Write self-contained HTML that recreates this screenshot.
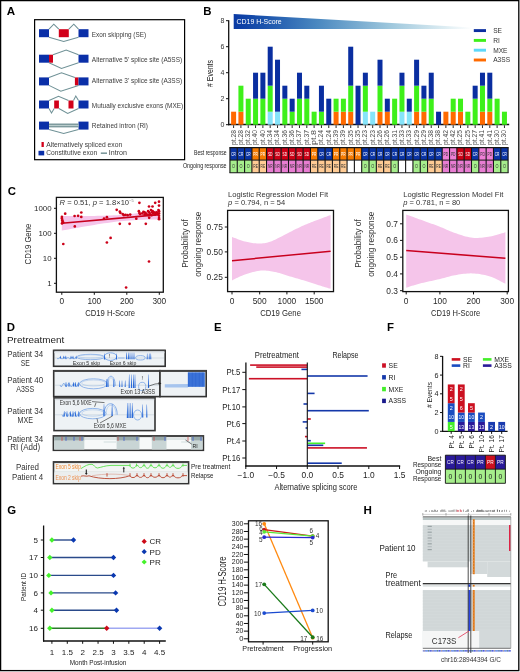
<!DOCTYPE html>
<html><head><meta charset="utf-8"><style>
html,body{margin:0;padding:0;background:#fff;}
svg{display:block;font-family:"Liberation Sans", sans-serif;will-change:transform;}
</style></head><body>
<svg width="520" height="672" viewBox="0 0 520 672">
<rect x="0" y="0" width="520" height="672" fill="#fff"/>
<rect x="0.60" y="0.60" width="518.20" height="670.00" fill="none" stroke="#000" stroke-width="1.3" />
<text x="6.80" y="15.30" font-size="11.6" fill="#000" font-weight="bold" >A</text>
<rect x="34.60" y="19.70" width="150.00" height="140.00" fill="none" stroke="#000" stroke-width="1.2" />
<rect x="39.00" y="29.20" width="10.00" height="8.00" fill="#0a2fa8" />
<rect x="58.80" y="29.20" width="10.00" height="8.00" fill="#d2001a" />
<rect x="78.50" y="29.20" width="10.00" height="8.00" fill="#0a2fa8" />
<polyline points="49.00,29.20 53.80,24.20 58.80,29.20" fill="none" stroke="#6f9196" stroke-width="1.05" />
<polyline points="68.80,29.20 73.80,24.20 78.50,29.20" fill="none" stroke="#6f9196" stroke-width="1.05" />
<polyline points="49.00,37.20 63.70,41.40 78.50,37.20" fill="none" stroke="#6f9196" stroke-width="1.05" />
<rect x="39.00" y="54.70" width="10.00" height="8.00" fill="#0a2fa8" />
<rect x="49.00" y="54.70" width="4.00" height="8.00" fill="#d2001a" />
<rect x="78.50" y="54.70" width="10.00" height="8.00" fill="#0a2fa8" />
<polyline points="53.00,54.70 66.20,50.00 78.50,54.70" fill="none" stroke="#6f9196" stroke-width="1.05" />
<polyline points="49.00,62.70 61.50,68.50 78.50,62.70" fill="none" stroke="#6f9196" stroke-width="1.05" />
<rect x="39.00" y="77.40" width="10.00" height="8.00" fill="#0a2fa8" />
<rect x="74.90" y="77.40" width="3.60" height="8.00" fill="#d2001a" />
<rect x="78.50" y="77.40" width="10.00" height="8.00" fill="#0a2fa8" />
<polyline points="49.00,77.40 61.50,72.80 74.90,77.40" fill="none" stroke="#6f9196" stroke-width="1.05" />
<polyline points="49.00,85.40 60.80,91.20 78.50,85.40" fill="none" stroke="#6f9196" stroke-width="1.05" />
<rect x="39.00" y="100.50" width="10.00" height="8.00" fill="#0a2fa8" />
<rect x="54.20" y="100.50" width="4.70" height="8.00" fill="#d2001a" />
<rect x="68.50" y="100.50" width="5.00" height="8.00" fill="#d2001a" />
<rect x="78.50" y="100.50" width="10.00" height="8.00" fill="#0a2fa8" />
<polyline points="49.00,100.50 58.50,96.30 68.50,100.50" fill="none" stroke="#6f9196" stroke-width="1.05" />
<polyline points="73.50,100.50 75.80,96.00 78.50,100.50" fill="none" stroke="#6f9196" stroke-width="1.05" />
<polyline points="49.00,108.50 51.50,113.00 54.20,108.50" fill="none" stroke="#6f9196" stroke-width="1.05" />
<polyline points="58.90,108.50 67.70,113.50 78.50,108.50" fill="none" stroke="#6f9196" stroke-width="1.05" />
<rect x="39.00" y="121.60" width="10.00" height="8.00" fill="#0a2fa8" />
<rect x="78.50" y="121.60" width="10.00" height="8.00" fill="#0a2fa8" />
<rect x="49.00" y="123.50" width="29.50" height="3.90" fill="#7e9a9d" />
<rect x="49.00" y="125.00" width="29.50" height="1.00" fill="#b9cccc" />
<polyline points="49.00,129.60 63.70,133.40 78.50,129.60" fill="none" stroke="#6f9196" stroke-width="1.05" />
<text x="91.80" y="36.50" font-size="7.2" fill="#3a3a3a" textLength="54.30" lengthAdjust="spacingAndGlyphs" >Exon skipping (SE)</text>
<text x="91.80" y="61.90" font-size="7.2" fill="#3a3a3a" textLength="90.40" lengthAdjust="spacingAndGlyphs" >Alternative 5’ splice site (A5SS)</text>
<text x="91.80" y="83.10" font-size="7.2" fill="#3a3a3a" textLength="90.40" lengthAdjust="spacingAndGlyphs" >Alternative 3’ splice site (A3SS)</text>
<text x="91.80" y="107.50" font-size="7.2" fill="#3a3a3a" textLength="91.40" lengthAdjust="spacingAndGlyphs" >Mutually exclusive exons (MXE)</text>
<text x="91.80" y="127.70" font-size="7.2" fill="#3a3a3a" textLength="56.20" lengthAdjust="spacingAndGlyphs" >Retained intron (RI)</text>
<rect x="41.50" y="142.00" width="2.30" height="5.00" fill="#d2001a" />
<text x="46.20" y="147.30" font-size="7.2" fill="#3a3a3a" textLength="76.00" lengthAdjust="spacingAndGlyphs" >Alternatively spliced exon</text>
<rect x="38.50" y="150.80" width="5.70" height="4.60" fill="#0a2fa8" />
<text x="46.20" y="155.30" font-size="7.2" fill="#3a3a3a" textLength="51.00" lengthAdjust="spacingAndGlyphs" >Constitutive exon</text>
<line x1="100.80" y1="153.20" x2="107.00" y2="153.20" stroke="#7e9a9d" stroke-width="1.6" />
<text x="108.80" y="155.30" font-size="7.2" fill="#3a3a3a" textLength="18.20" lengthAdjust="spacingAndGlyphs" >Intron</text>
<text x="203.30" y="14.80" font-size="11.4" fill="#000" font-weight="bold" >B</text>
<defs><linearGradient id="hs" x1="233.7" y1="0" x2="472" y2="0" gradientUnits="userSpaceOnUse"><stop offset="0" stop-color="#0a3aa4"/><stop offset="0.12" stop-color="#1a52ac"/><stop offset="0.35" stop-color="#4a88c0"/><stop offset="0.65" stop-color="#9cc6dc"/><stop offset="0.88" stop-color="#dcecf2"/><stop offset="1" stop-color="#ffffff"/></linearGradient></defs>
<polygon points="233.70,14.00 472.00,27.60 472.00,29.00 233.70,29.00" fill="url(#hs)" />
<text x="236.50" y="24.00" font-size="8" fill="#fff" textLength="45.20" lengthAdjust="spacingAndGlyphs" >CD19 H-Score</text>
<line x1="228.70" y1="20.20" x2="228.70" y2="125.30" stroke="#111" stroke-width="1.3" />
<line x1="228.10" y1="124.50" x2="509.20" y2="124.50" stroke="#111" stroke-width="1.3" />
<line x1="226.00" y1="124.70" x2="228.70" y2="124.70" stroke="#111" stroke-width="1.0" />
<text x="224.30" y="127.20" font-size="7" fill="#333" text-anchor="end" >0</text>
<line x1="226.00" y1="98.70" x2="228.70" y2="98.70" stroke="#111" stroke-width="1.0" />
<text x="224.30" y="101.20" font-size="7" fill="#333" text-anchor="end" >2</text>
<line x1="226.00" y1="72.70" x2="228.70" y2="72.70" stroke="#111" stroke-width="1.0" />
<text x="224.30" y="75.20" font-size="7" fill="#333" text-anchor="end" >4</text>
<line x1="226.00" y1="46.70" x2="228.70" y2="46.70" stroke="#111" stroke-width="1.0" />
<text x="224.30" y="49.20" font-size="7" fill="#333" text-anchor="end" >6</text>
<line x1="226.00" y1="20.70" x2="228.70" y2="20.70" stroke="#111" stroke-width="1.0" />
<text x="224.30" y="23.20" font-size="7" fill="#333" text-anchor="end" >8</text>
<text x="0" y="0" font-size="8.8" fill="#1a1a1a" text-anchor="middle" textLength="26.80" lengthAdjust="spacingAndGlyphs" transform="translate(213.30,73.50) rotate(-90)" ># Events</text>
<rect x="231.10" y="111.70" width="5.00" height="13.00" fill="#ff6a00" />
<line x1="233.60" y1="125.30" x2="233.60" y2="128.00" stroke="#111" stroke-width="0.9" />
<text x="0" y="0" font-size="6.5" fill="#4a4a4a" text-anchor="end" textLength="15.00" lengthAdjust="spacingAndGlyphs" transform="translate(235.50,130.00) rotate(-90)" >pt.28</text>
<rect x="238.42" y="111.70" width="5.00" height="13.00" fill="#ff6a00" />
<rect x="238.42" y="85.70" width="5.00" height="26.00" fill="#3ef01a" />
<line x1="240.92" y1="125.30" x2="240.92" y2="128.00" stroke="#111" stroke-width="0.9" />
<text x="0" y="0" font-size="6.5" fill="#4a4a4a" text-anchor="end" textLength="15.00" lengthAdjust="spacingAndGlyphs" transform="translate(242.82,130.00) rotate(-90)" >pt.28</text>
<rect x="245.74" y="98.70" width="5.00" height="26.00" fill="#3ef01a" />
<line x1="248.24" y1="125.30" x2="248.24" y2="128.00" stroke="#111" stroke-width="0.9" />
<text x="0" y="0" font-size="6.5" fill="#4a4a4a" text-anchor="end" textLength="15.00" lengthAdjust="spacingAndGlyphs" transform="translate(250.14,130.00) rotate(-90)" >pt.32</text>
<rect x="253.06" y="98.70" width="5.00" height="26.00" fill="#3ef01a" />
<rect x="253.06" y="72.70" width="5.00" height="26.00" fill="#0a2ea0" />
<line x1="255.56" y1="125.30" x2="255.56" y2="128.00" stroke="#111" stroke-width="0.9" />
<text x="0" y="0" font-size="6.5" fill="#4a4a4a" text-anchor="end" textLength="15.00" lengthAdjust="spacingAndGlyphs" transform="translate(257.46,130.00) rotate(-90)" >pt.40</text>
<rect x="260.38" y="98.70" width="5.00" height="26.00" fill="#3ef01a" />
<rect x="260.38" y="72.70" width="5.00" height="26.00" fill="#0a2ea0" />
<line x1="262.88" y1="125.30" x2="262.88" y2="128.00" stroke="#111" stroke-width="0.9" />
<text x="0" y="0" font-size="6.5" fill="#4a4a4a" text-anchor="end" textLength="15.00" lengthAdjust="spacingAndGlyphs" transform="translate(264.78,130.00) rotate(-90)" >pt.40</text>
<rect x="267.70" y="111.70" width="5.00" height="13.00" fill="#86e4fa" />
<rect x="267.70" y="85.70" width="5.00" height="26.00" fill="#3ef01a" />
<rect x="267.70" y="46.70" width="5.00" height="39.00" fill="#0a2ea0" />
<line x1="270.20" y1="125.30" x2="270.20" y2="128.00" stroke="#111" stroke-width="0.9" />
<text x="0" y="0" font-size="6.5" fill="#4a4a4a" text-anchor="end" textLength="15.00" lengthAdjust="spacingAndGlyphs" transform="translate(272.10,130.00) rotate(-90)" >pt.34</text>
<rect x="275.02" y="111.70" width="5.00" height="13.00" fill="#86e4fa" />
<rect x="275.02" y="59.70" width="5.00" height="52.00" fill="#0a2ea0" />
<line x1="277.52" y1="125.30" x2="277.52" y2="128.00" stroke="#111" stroke-width="0.9" />
<text x="0" y="0" font-size="6.5" fill="#4a4a4a" text-anchor="end" textLength="15.00" lengthAdjust="spacingAndGlyphs" transform="translate(279.42,130.00) rotate(-90)" >pt.34</text>
<rect x="282.34" y="98.70" width="5.00" height="26.00" fill="#3ef01a" />
<rect x="282.34" y="85.70" width="5.00" height="13.00" fill="#0a2ea0" />
<line x1="284.84" y1="125.30" x2="284.84" y2="128.00" stroke="#111" stroke-width="0.9" />
<text x="0" y="0" font-size="6.5" fill="#4a4a4a" text-anchor="end" textLength="15.00" lengthAdjust="spacingAndGlyphs" transform="translate(286.74,130.00) rotate(-90)" >pt.36</text>
<rect x="289.66" y="111.70" width="5.00" height="13.00" fill="#3ef01a" />
<rect x="289.66" y="98.70" width="5.00" height="13.00" fill="#0a2ea0" />
<line x1="292.16" y1="125.30" x2="292.16" y2="128.00" stroke="#111" stroke-width="0.9" />
<text x="0" y="0" font-size="6.5" fill="#4a4a4a" text-anchor="end" textLength="15.00" lengthAdjust="spacingAndGlyphs" transform="translate(294.06,130.00) rotate(-90)" >pt.36</text>
<rect x="296.98" y="98.70" width="5.00" height="26.00" fill="#3ef01a" />
<rect x="296.98" y="72.70" width="5.00" height="26.00" fill="#0a2ea0" />
<line x1="299.48" y1="125.30" x2="299.48" y2="128.00" stroke="#111" stroke-width="0.9" />
<text x="0" y="0" font-size="6.5" fill="#4a4a4a" text-anchor="end" textLength="15.00" lengthAdjust="spacingAndGlyphs" transform="translate(301.38,130.00) rotate(-90)" >pt.37</text>
<rect x="304.30" y="98.70" width="5.00" height="26.00" fill="#3ef01a" />
<rect x="304.30" y="85.70" width="5.00" height="13.00" fill="#0a2ea0" />
<line x1="306.80" y1="125.30" x2="306.80" y2="128.00" stroke="#111" stroke-width="0.9" />
<text x="0" y="0" font-size="6.5" fill="#4a4a4a" text-anchor="end" textLength="15.00" lengthAdjust="spacingAndGlyphs" transform="translate(308.70,130.00) rotate(-90)" >pt.37</text>
<rect x="311.62" y="111.70" width="5.00" height="13.00" fill="#3ef01a" />
<line x1="314.12" y1="125.30" x2="314.12" y2="128.00" stroke="#111" stroke-width="0.9" />
<text x="0" y="0" font-size="6.5" fill="#4a4a4a" text-anchor="end" textLength="15.00" lengthAdjust="spacingAndGlyphs" transform="translate(316.02,130.00) rotate(-90)" >pt.8</text>
<rect x="318.94" y="111.70" width="5.00" height="13.00" fill="#3ef01a" />
<rect x="318.94" y="85.70" width="5.00" height="26.00" fill="#0a2ea0" />
<line x1="321.44" y1="125.30" x2="321.44" y2="128.00" stroke="#111" stroke-width="0.9" />
<text x="0" y="0" font-size="6.5" fill="#4a4a4a" text-anchor="end" textLength="15.00" lengthAdjust="spacingAndGlyphs" transform="translate(323.34,130.00) rotate(-90)" >pt.24</text>
<rect x="326.26" y="98.70" width="5.00" height="26.00" fill="#0a2ea0" />
<line x1="328.76" y1="125.30" x2="328.76" y2="128.00" stroke="#111" stroke-width="0.9" />
<text x="0" y="0" font-size="6.5" fill="#4a4a4a" text-anchor="end" textLength="15.00" lengthAdjust="spacingAndGlyphs" transform="translate(330.66,130.00) rotate(-90)" >pt.24</text>
<rect x="333.58" y="111.70" width="5.00" height="13.00" fill="#ff6a00" />
<rect x="333.58" y="98.70" width="5.00" height="13.00" fill="#3ef01a" />
<line x1="336.08" y1="125.30" x2="336.08" y2="128.00" stroke="#111" stroke-width="0.9" />
<text x="0" y="0" font-size="6.5" fill="#4a4a4a" text-anchor="end" textLength="15.00" lengthAdjust="spacingAndGlyphs" transform="translate(337.98,130.00) rotate(-90)" >pt.39</text>
<rect x="340.90" y="111.70" width="5.00" height="13.00" fill="#ff6a00" />
<rect x="340.90" y="98.70" width="5.00" height="13.00" fill="#3ef01a" />
<line x1="343.40" y1="125.30" x2="343.40" y2="128.00" stroke="#111" stroke-width="0.9" />
<text x="0" y="0" font-size="6.5" fill="#4a4a4a" text-anchor="end" textLength="15.00" lengthAdjust="spacingAndGlyphs" transform="translate(345.30,130.00) rotate(-90)" >pt.39</text>
<rect x="348.22" y="111.70" width="5.00" height="13.00" fill="#ff6a00" />
<rect x="348.22" y="85.70" width="5.00" height="26.00" fill="#3ef01a" />
<rect x="348.22" y="46.70" width="5.00" height="39.00" fill="#0a2ea0" />
<line x1="350.72" y1="125.30" x2="350.72" y2="128.00" stroke="#111" stroke-width="0.9" />
<text x="0" y="0" font-size="6.5" fill="#4a4a4a" text-anchor="end" textLength="15.00" lengthAdjust="spacingAndGlyphs" transform="translate(352.62,130.00) rotate(-90)" >pt.35</text>
<rect x="355.54" y="85.70" width="5.00" height="39.00" fill="#0a2ea0" />
<line x1="358.04" y1="125.30" x2="358.04" y2="128.00" stroke="#111" stroke-width="0.9" />
<text x="0" y="0" font-size="6.5" fill="#4a4a4a" text-anchor="end" textLength="15.00" lengthAdjust="spacingAndGlyphs" transform="translate(359.94,130.00) rotate(-90)" >pt.35</text>
<rect x="362.86" y="111.70" width="5.00" height="13.00" fill="#86e4fa" />
<rect x="362.86" y="85.70" width="5.00" height="26.00" fill="#3ef01a" />
<rect x="362.86" y="72.70" width="5.00" height="13.00" fill="#0a2ea0" />
<line x1="365.36" y1="125.30" x2="365.36" y2="128.00" stroke="#111" stroke-width="0.9" />
<text x="0" y="0" font-size="6.5" fill="#4a4a4a" text-anchor="end" textLength="15.00" lengthAdjust="spacingAndGlyphs" transform="translate(367.26,130.00) rotate(-90)" >pt.23</text>
<rect x="370.18" y="111.70" width="5.00" height="13.00" fill="#86e4fa" />
<line x1="372.68" y1="125.30" x2="372.68" y2="128.00" stroke="#111" stroke-width="0.9" />
<text x="0" y="0" font-size="6.5" fill="#4a4a4a" text-anchor="end" textLength="15.00" lengthAdjust="spacingAndGlyphs" transform="translate(374.58,130.00) rotate(-90)" >pt.23</text>
<rect x="377.50" y="111.70" width="5.00" height="13.00" fill="#ff6a00" />
<rect x="377.50" y="85.70" width="5.00" height="26.00" fill="#3ef01a" />
<rect x="377.50" y="59.70" width="5.00" height="26.00" fill="#0a2ea0" />
<line x1="380.00" y1="125.30" x2="380.00" y2="128.00" stroke="#111" stroke-width="0.9" />
<text x="0" y="0" font-size="6.5" fill="#4a4a4a" text-anchor="end" textLength="15.00" lengthAdjust="spacingAndGlyphs" transform="translate(381.90,130.00) rotate(-90)" >pt.26</text>
<rect x="384.82" y="111.70" width="5.00" height="13.00" fill="#ff6a00" />
<rect x="384.82" y="98.70" width="5.00" height="13.00" fill="#0a2ea0" />
<line x1="387.32" y1="125.30" x2="387.32" y2="128.00" stroke="#111" stroke-width="0.9" />
<text x="0" y="0" font-size="6.5" fill="#4a4a4a" text-anchor="end" textLength="15.00" lengthAdjust="spacingAndGlyphs" transform="translate(389.22,130.00) rotate(-90)" >pt.26</text>
<rect x="392.14" y="98.70" width="5.00" height="26.00" fill="#3ef01a" />
<line x1="394.64" y1="125.30" x2="394.64" y2="128.00" stroke="#111" stroke-width="0.9" />
<text x="0" y="0" font-size="6.5" fill="#4a4a4a" text-anchor="end" textLength="15.00" lengthAdjust="spacingAndGlyphs" transform="translate(396.54,130.00) rotate(-90)" >pt.31</text>
<rect x="399.46" y="111.70" width="5.00" height="13.00" fill="#86e4fa" />
<rect x="399.46" y="85.70" width="5.00" height="26.00" fill="#3ef01a" />
<rect x="399.46" y="72.70" width="5.00" height="13.00" fill="#0a2ea0" />
<line x1="401.96" y1="125.30" x2="401.96" y2="128.00" stroke="#111" stroke-width="0.9" />
<text x="0" y="0" font-size="6.5" fill="#4a4a4a" text-anchor="end" textLength="15.00" lengthAdjust="spacingAndGlyphs" transform="translate(403.86,130.00) rotate(-90)" >pt.33</text>
<rect x="406.78" y="111.70" width="5.00" height="13.00" fill="#86e4fa" />
<rect x="406.78" y="98.70" width="5.00" height="13.00" fill="#0a2ea0" />
<line x1="409.28" y1="125.30" x2="409.28" y2="128.00" stroke="#111" stroke-width="0.9" />
<text x="0" y="0" font-size="6.5" fill="#4a4a4a" text-anchor="end" textLength="15.00" lengthAdjust="spacingAndGlyphs" transform="translate(411.18,130.00) rotate(-90)" >pt.33</text>
<rect x="414.10" y="111.70" width="5.00" height="13.00" fill="#ff6a00" />
<rect x="414.10" y="85.70" width="5.00" height="26.00" fill="#3ef01a" />
<rect x="414.10" y="59.70" width="5.00" height="26.00" fill="#0a2ea0" />
<line x1="416.60" y1="125.30" x2="416.60" y2="128.00" stroke="#111" stroke-width="0.9" />
<text x="0" y="0" font-size="6.5" fill="#4a4a4a" text-anchor="end" textLength="15.00" lengthAdjust="spacingAndGlyphs" transform="translate(418.50,130.00) rotate(-90)" >pt.29</text>
<rect x="421.42" y="111.70" width="5.00" height="13.00" fill="#ff6a00" />
<rect x="421.42" y="98.70" width="5.00" height="13.00" fill="#3ef01a" />
<rect x="421.42" y="85.70" width="5.00" height="13.00" fill="#0a2ea0" />
<line x1="423.92" y1="125.30" x2="423.92" y2="128.00" stroke="#111" stroke-width="0.9" />
<text x="0" y="0" font-size="6.5" fill="#4a4a4a" text-anchor="end" textLength="15.00" lengthAdjust="spacingAndGlyphs" transform="translate(425.82,130.00) rotate(-90)" >pt.29</text>
<rect x="428.74" y="98.70" width="5.00" height="26.00" fill="#3ef01a" />
<rect x="428.74" y="72.70" width="5.00" height="26.00" fill="#0a2ea0" />
<line x1="431.24" y1="125.30" x2="431.24" y2="128.00" stroke="#111" stroke-width="0.9" />
<text x="0" y="0" font-size="6.5" fill="#4a4a4a" text-anchor="end" textLength="15.00" lengthAdjust="spacingAndGlyphs" transform="translate(433.14,130.00) rotate(-90)" >pt.38</text>
<rect x="436.06" y="111.70" width="5.00" height="13.00" fill="#0a2ea0" />
<line x1="438.56" y1="125.30" x2="438.56" y2="128.00" stroke="#111" stroke-width="0.9" />
<text x="0" y="0" font-size="6.5" fill="#4a4a4a" text-anchor="end" textLength="15.00" lengthAdjust="spacingAndGlyphs" transform="translate(440.46,130.00) rotate(-90)" >pt.38</text>
<rect x="443.38" y="111.70" width="5.00" height="13.00" fill="#ff6a00" />
<line x1="445.88" y1="125.30" x2="445.88" y2="128.00" stroke="#111" stroke-width="0.9" />
<text x="0" y="0" font-size="6.5" fill="#4a4a4a" text-anchor="end" textLength="15.00" lengthAdjust="spacingAndGlyphs" transform="translate(447.78,130.00) rotate(-90)" >pt.42</text>
<rect x="450.70" y="111.70" width="5.00" height="13.00" fill="#ff6a00" />
<rect x="450.70" y="98.70" width="5.00" height="13.00" fill="#3ef01a" />
<line x1="453.20" y1="125.30" x2="453.20" y2="128.00" stroke="#111" stroke-width="0.9" />
<text x="0" y="0" font-size="6.5" fill="#4a4a4a" text-anchor="end" textLength="15.00" lengthAdjust="spacingAndGlyphs" transform="translate(455.10,130.00) rotate(-90)" >pt.42</text>
<rect x="458.02" y="111.70" width="5.00" height="13.00" fill="#ff6a00" />
<rect x="458.02" y="98.70" width="5.00" height="13.00" fill="#3ef01a" />
<line x1="460.52" y1="125.30" x2="460.52" y2="128.00" stroke="#111" stroke-width="0.9" />
<text x="0" y="0" font-size="6.5" fill="#4a4a4a" text-anchor="end" textLength="15.00" lengthAdjust="spacingAndGlyphs" transform="translate(462.42,130.00) rotate(-90)" >pt.25</text>
<rect x="465.34" y="111.70" width="5.00" height="13.00" fill="#3ef01a" />
<line x1="467.84" y1="125.30" x2="467.84" y2="128.00" stroke="#111" stroke-width="0.9" />
<text x="0" y="0" font-size="6.5" fill="#4a4a4a" text-anchor="end" textLength="15.00" lengthAdjust="spacingAndGlyphs" transform="translate(469.74,130.00) rotate(-90)" >pt.25</text>
<rect x="472.66" y="98.70" width="5.00" height="26.00" fill="#3ef01a" />
<rect x="472.66" y="85.70" width="5.00" height="13.00" fill="#0a2ea0" />
<line x1="475.16" y1="125.30" x2="475.16" y2="128.00" stroke="#111" stroke-width="0.9" />
<text x="0" y="0" font-size="6.5" fill="#4a4a4a" text-anchor="end" textLength="15.00" lengthAdjust="spacingAndGlyphs" transform="translate(477.06,130.00) rotate(-90)" >pt.27</text>
<rect x="479.98" y="111.70" width="5.00" height="13.00" fill="#ff6a00" />
<rect x="479.98" y="85.70" width="5.00" height="26.00" fill="#3ef01a" />
<rect x="479.98" y="72.70" width="5.00" height="13.00" fill="#0a2ea0" />
<line x1="482.48" y1="125.30" x2="482.48" y2="128.00" stroke="#111" stroke-width="0.9" />
<text x="0" y="0" font-size="6.5" fill="#4a4a4a" text-anchor="end" textLength="15.00" lengthAdjust="spacingAndGlyphs" transform="translate(484.38,130.00) rotate(-90)" >pt.41</text>
<rect x="487.30" y="111.70" width="5.00" height="13.00" fill="#ff6a00" />
<rect x="487.30" y="98.70" width="5.00" height="13.00" fill="#3ef01a" />
<rect x="487.30" y="72.70" width="5.00" height="26.00" fill="#0a2ea0" />
<line x1="489.80" y1="125.30" x2="489.80" y2="128.00" stroke="#111" stroke-width="0.9" />
<text x="0" y="0" font-size="6.5" fill="#4a4a4a" text-anchor="end" textLength="15.00" lengthAdjust="spacingAndGlyphs" transform="translate(491.70,130.00) rotate(-90)" >pt.41</text>
<rect x="494.62" y="98.70" width="5.00" height="26.00" fill="#3ef01a" />
<line x1="497.12" y1="125.30" x2="497.12" y2="128.00" stroke="#111" stroke-width="0.9" />
<text x="0" y="0" font-size="6.5" fill="#4a4a4a" text-anchor="end" textLength="15.00" lengthAdjust="spacingAndGlyphs" transform="translate(499.02,130.00) rotate(-90)" >pt.30</text>
<rect x="501.94" y="111.70" width="5.00" height="13.00" fill="#3ef01a" />
<line x1="504.44" y1="125.30" x2="504.44" y2="128.00" stroke="#111" stroke-width="0.9" />
<text x="0" y="0" font-size="6.5" fill="#4a4a4a" text-anchor="end" textLength="15.00" lengthAdjust="spacingAndGlyphs" transform="translate(506.34,130.00) rotate(-90)" >pt.30</text>
<rect x="473.80" y="29.15" width="12.20" height="2.90" fill="#0a2ea0" />
<text x="493.20" y="32.90" font-size="6.6" fill="#333" >SE</text>
<rect x="473.80" y="38.95" width="12.20" height="2.90" fill="#3ef01a" />
<text x="493.20" y="42.70" font-size="6.6" fill="#333" >RI</text>
<rect x="473.80" y="48.75" width="12.20" height="2.90" fill="#5cd8fa" />
<text x="493.20" y="52.50" font-size="6.6" fill="#333" >MXE</text>
<rect x="473.80" y="58.55" width="12.20" height="2.90" fill="#ff6a00" />
<text x="493.20" y="62.30" font-size="6.6" fill="#333" >A3SS</text>
<text x="226.60" y="155.20" font-size="6.4" fill="#222" text-anchor="end" textLength="32.50" lengthAdjust="spacingAndGlyphs" >Best response</text>
<text x="226.60" y="168.30" font-size="6.4" fill="#222" text-anchor="end" textLength="43.70" lengthAdjust="spacingAndGlyphs" >Ongoing response</text>
<rect x="229.94" y="147.60" width="7.32" height="12.50" fill="#0a34a6" />
<text x="233.60" y="155.90" font-size="5.6" fill="#fff" text-anchor="middle" textLength="4.60" lengthAdjust="spacingAndGlyphs" >CR</text>
<rect x="229.94" y="160.10" width="7.32" height="12.70" fill="#a6ee8c" />
<text x="233.60" y="168.40" font-size="5.6" fill="#333" text-anchor="middle" textLength="3.00" lengthAdjust="spacingAndGlyphs" >O</text>
<rect x="237.26" y="147.60" width="7.32" height="12.50" fill="#0a34a6" />
<text x="240.92" y="155.90" font-size="5.6" fill="#fff" text-anchor="middle" textLength="4.60" lengthAdjust="spacingAndGlyphs" >CR</text>
<rect x="237.26" y="160.10" width="7.32" height="12.70" fill="#a6ee8c" />
<text x="240.92" y="168.40" font-size="5.6" fill="#333" text-anchor="middle" textLength="3.00" lengthAdjust="spacingAndGlyphs" >O</text>
<rect x="244.58" y="147.60" width="7.32" height="12.50" fill="#0a34a6" />
<text x="248.24" y="155.90" font-size="5.6" fill="#fff" text-anchor="middle" textLength="4.60" lengthAdjust="spacingAndGlyphs" >CR</text>
<rect x="244.58" y="160.10" width="7.32" height="12.70" fill="#a6ee8c" />
<text x="248.24" y="168.40" font-size="5.6" fill="#333" text-anchor="middle" textLength="3.00" lengthAdjust="spacingAndGlyphs" >O</text>
<rect x="251.90" y="147.60" width="7.32" height="12.50" fill="#f57a00" />
<text x="255.56" y="155.90" font-size="5.6" fill="#fff" text-anchor="middle" textLength="4.60" lengthAdjust="spacingAndGlyphs" >PR</text>
<rect x="251.90" y="160.10" width="7.32" height="12.70" fill="#ffcb94" />
<text x="255.56" y="168.40" font-size="5.6" fill="#333" text-anchor="middle" textLength="4.60" lengthAdjust="spacingAndGlyphs" >RE</text>
<rect x="259.22" y="147.60" width="7.32" height="12.50" fill="#f57a00" />
<text x="262.88" y="155.90" font-size="5.6" fill="#fff" text-anchor="middle" textLength="4.60" lengthAdjust="spacingAndGlyphs" >PR</text>
<rect x="259.22" y="160.10" width="7.32" height="12.70" fill="#ffcb94" />
<text x="262.88" y="168.40" font-size="5.6" fill="#333" text-anchor="middle" textLength="4.60" lengthAdjust="spacingAndGlyphs" >RE</text>
<rect x="266.54" y="147.60" width="7.32" height="12.50" fill="#cc0016" />
<text x="270.20" y="155.90" font-size="5.6" fill="#fff" text-anchor="middle" textLength="4.60" lengthAdjust="spacingAndGlyphs" >SD</text>
<rect x="266.54" y="160.10" width="7.32" height="12.70" fill="#e87dd2" />
<text x="270.20" y="168.40" font-size="5.6" fill="#333" text-anchor="middle" textLength="4.60" lengthAdjust="spacingAndGlyphs" >NR</text>
<rect x="273.86" y="147.60" width="7.32" height="12.50" fill="#cc0016" />
<text x="277.52" y="155.90" font-size="5.6" fill="#fff" text-anchor="middle" textLength="4.60" lengthAdjust="spacingAndGlyphs" >SD</text>
<rect x="273.86" y="160.10" width="7.32" height="12.70" fill="#e87dd2" />
<text x="277.52" y="168.40" font-size="5.6" fill="#333" text-anchor="middle" textLength="4.60" lengthAdjust="spacingAndGlyphs" >NR</text>
<rect x="281.18" y="147.60" width="7.32" height="12.50" fill="#cc0016" />
<text x="284.84" y="155.90" font-size="5.6" fill="#fff" text-anchor="middle" textLength="4.60" lengthAdjust="spacingAndGlyphs" >SD</text>
<rect x="281.18" y="160.10" width="7.32" height="12.70" fill="#e87dd2" />
<text x="284.84" y="168.40" font-size="5.6" fill="#333" text-anchor="middle" textLength="4.60" lengthAdjust="spacingAndGlyphs" >NR</text>
<rect x="288.50" y="147.60" width="7.32" height="12.50" fill="#cc0016" />
<text x="292.16" y="155.90" font-size="5.6" fill="#fff" text-anchor="middle" textLength="4.60" lengthAdjust="spacingAndGlyphs" >SD</text>
<rect x="288.50" y="160.10" width="7.32" height="12.70" fill="#e87dd2" />
<text x="292.16" y="168.40" font-size="5.6" fill="#333" text-anchor="middle" textLength="4.60" lengthAdjust="spacingAndGlyphs" >NR</text>
<rect x="295.82" y="147.60" width="7.32" height="12.50" fill="#cc0016" />
<text x="299.48" y="155.90" font-size="5.6" fill="#fff" text-anchor="middle" textLength="4.60" lengthAdjust="spacingAndGlyphs" >SD</text>
<rect x="295.82" y="160.10" width="7.32" height="12.70" fill="#e87dd2" />
<text x="299.48" y="168.40" font-size="5.6" fill="#333" text-anchor="middle" textLength="4.60" lengthAdjust="spacingAndGlyphs" >NR</text>
<rect x="303.14" y="147.60" width="7.32" height="12.50" fill="#cc0016" />
<text x="306.80" y="155.90" font-size="5.6" fill="#fff" text-anchor="middle" textLength="4.60" lengthAdjust="spacingAndGlyphs" >SD</text>
<rect x="303.14" y="160.10" width="7.32" height="12.70" fill="#e87dd2" />
<text x="306.80" y="168.40" font-size="5.6" fill="#333" text-anchor="middle" textLength="4.60" lengthAdjust="spacingAndGlyphs" >NR</text>
<rect x="310.46" y="147.60" width="7.32" height="12.50" fill="#f57a00" />
<text x="314.12" y="155.90" font-size="5.6" fill="#fff" text-anchor="middle" textLength="4.60" lengthAdjust="spacingAndGlyphs" >PR</text>
<rect x="310.46" y="160.10" width="7.32" height="12.70" fill="#ffcb94" />
<text x="314.12" y="168.40" font-size="5.6" fill="#333" text-anchor="middle" textLength="4.60" lengthAdjust="spacingAndGlyphs" >RE</text>
<rect x="317.78" y="147.60" width="7.32" height="12.50" fill="#0a34a6" />
<text x="321.44" y="155.90" font-size="5.6" fill="#fff" text-anchor="middle" textLength="4.60" lengthAdjust="spacingAndGlyphs" >CR</text>
<rect x="317.78" y="160.10" width="7.32" height="12.70" fill="#ffcb94" />
<text x="321.44" y="168.40" font-size="5.6" fill="#333" text-anchor="middle" textLength="4.60" lengthAdjust="spacingAndGlyphs" >RE</text>
<rect x="325.10" y="147.60" width="7.32" height="12.50" fill="#0a34a6" />
<text x="328.76" y="155.90" font-size="5.6" fill="#fff" text-anchor="middle" textLength="4.60" lengthAdjust="spacingAndGlyphs" >CR</text>
<rect x="325.10" y="160.10" width="7.32" height="12.70" fill="#ffcb94" />
<text x="328.76" y="168.40" font-size="5.6" fill="#333" text-anchor="middle" textLength="4.60" lengthAdjust="spacingAndGlyphs" >RE</text>
<rect x="332.42" y="147.60" width="7.32" height="12.50" fill="#f57a00" />
<text x="336.08" y="155.90" font-size="5.6" fill="#fff" text-anchor="middle" textLength="4.60" lengthAdjust="spacingAndGlyphs" >PR</text>
<rect x="332.42" y="160.10" width="7.32" height="12.70" fill="#ffcb94" />
<text x="336.08" y="168.40" font-size="5.6" fill="#333" text-anchor="middle" textLength="4.60" lengthAdjust="spacingAndGlyphs" >RE</text>
<rect x="339.74" y="147.60" width="7.32" height="12.50" fill="#f57a00" />
<text x="343.40" y="155.90" font-size="5.6" fill="#fff" text-anchor="middle" textLength="4.60" lengthAdjust="spacingAndGlyphs" >PR</text>
<rect x="339.74" y="160.10" width="7.32" height="12.70" fill="#ffcb94" />
<text x="343.40" y="168.40" font-size="5.6" fill="#333" text-anchor="middle" textLength="4.60" lengthAdjust="spacingAndGlyphs" >RE</text>
<rect x="347.06" y="147.60" width="7.32" height="12.50" fill="#f57a00" />
<text x="350.72" y="155.90" font-size="5.6" fill="#fff" text-anchor="middle" textLength="4.60" lengthAdjust="spacingAndGlyphs" >PR</text>
<rect x="347.06" y="160.10" width="7.32" height="12.70" fill="#ffffff" />
<rect x="354.38" y="147.60" width="7.32" height="12.50" fill="#f57a00" />
<text x="358.04" y="155.90" font-size="5.6" fill="#fff" text-anchor="middle" textLength="4.60" lengthAdjust="spacingAndGlyphs" >PR</text>
<rect x="354.38" y="160.10" width="7.32" height="12.70" fill="#ffffff" />
<rect x="361.70" y="147.60" width="7.32" height="12.50" fill="#0a34a6" />
<text x="365.36" y="155.90" font-size="5.6" fill="#fff" text-anchor="middle" textLength="4.60" lengthAdjust="spacingAndGlyphs" >CR</text>
<rect x="361.70" y="160.10" width="7.32" height="12.70" fill="#a6ee8c" />
<text x="365.36" y="168.40" font-size="5.6" fill="#333" text-anchor="middle" textLength="3.00" lengthAdjust="spacingAndGlyphs" >O</text>
<rect x="369.02" y="147.60" width="7.32" height="12.50" fill="#0a34a6" />
<text x="372.68" y="155.90" font-size="5.6" fill="#fff" text-anchor="middle" textLength="4.60" lengthAdjust="spacingAndGlyphs" >CR</text>
<rect x="369.02" y="160.10" width="7.32" height="12.70" fill="#a6ee8c" />
<text x="372.68" y="168.40" font-size="5.6" fill="#333" text-anchor="middle" textLength="3.00" lengthAdjust="spacingAndGlyphs" >O</text>
<rect x="376.34" y="147.60" width="7.32" height="12.50" fill="#0a34a6" />
<text x="380.00" y="155.90" font-size="5.6" fill="#fff" text-anchor="middle" textLength="4.60" lengthAdjust="spacingAndGlyphs" >CR</text>
<rect x="376.34" y="160.10" width="7.32" height="12.70" fill="#ffcb94" />
<text x="380.00" y="168.40" font-size="5.6" fill="#333" text-anchor="middle" textLength="4.60" lengthAdjust="spacingAndGlyphs" >RE</text>
<rect x="383.66" y="147.60" width="7.32" height="12.50" fill="#0a34a6" />
<text x="387.32" y="155.90" font-size="5.6" fill="#fff" text-anchor="middle" textLength="4.60" lengthAdjust="spacingAndGlyphs" >CR</text>
<rect x="383.66" y="160.10" width="7.32" height="12.70" fill="#ffcb94" />
<text x="387.32" y="168.40" font-size="5.6" fill="#333" text-anchor="middle" textLength="4.60" lengthAdjust="spacingAndGlyphs" >RE</text>
<rect x="390.98" y="147.60" width="7.32" height="12.50" fill="#0a34a6" />
<text x="394.64" y="155.90" font-size="5.6" fill="#fff" text-anchor="middle" textLength="4.60" lengthAdjust="spacingAndGlyphs" >CR</text>
<rect x="390.98" y="160.10" width="7.32" height="12.70" fill="#a6ee8c" />
<text x="394.64" y="168.40" font-size="5.6" fill="#333" text-anchor="middle" textLength="3.00" lengthAdjust="spacingAndGlyphs" >O</text>
<rect x="398.30" y="147.60" width="7.32" height="12.50" fill="#0a34a6" />
<text x="401.96" y="155.90" font-size="5.6" fill="#fff" text-anchor="middle" textLength="4.60" lengthAdjust="spacingAndGlyphs" >CR</text>
<rect x="398.30" y="160.10" width="7.32" height="12.70" fill="#ffffff" />
<rect x="405.62" y="147.60" width="7.32" height="12.50" fill="#0a34a6" />
<text x="409.28" y="155.90" font-size="5.6" fill="#fff" text-anchor="middle" textLength="4.60" lengthAdjust="spacingAndGlyphs" >CR</text>
<rect x="405.62" y="160.10" width="7.32" height="12.70" fill="#ffffff" />
<rect x="412.94" y="147.60" width="7.32" height="12.50" fill="#0a34a6" />
<text x="416.60" y="155.90" font-size="5.6" fill="#fff" text-anchor="middle" textLength="4.60" lengthAdjust="spacingAndGlyphs" >CR</text>
<rect x="412.94" y="160.10" width="7.32" height="12.70" fill="#a6ee8c" />
<text x="416.60" y="168.40" font-size="5.6" fill="#333" text-anchor="middle" textLength="3.00" lengthAdjust="spacingAndGlyphs" >O</text>
<rect x="420.26" y="147.60" width="7.32" height="12.50" fill="#0a34a6" />
<text x="423.92" y="155.90" font-size="5.6" fill="#fff" text-anchor="middle" textLength="4.60" lengthAdjust="spacingAndGlyphs" >CR</text>
<rect x="420.26" y="160.10" width="7.32" height="12.70" fill="#a6ee8c" />
<text x="423.92" y="168.40" font-size="5.6" fill="#333" text-anchor="middle" textLength="3.00" lengthAdjust="spacingAndGlyphs" >O</text>
<rect x="427.58" y="147.60" width="7.32" height="12.50" fill="#0a34a6" />
<text x="431.24" y="155.90" font-size="5.6" fill="#fff" text-anchor="middle" textLength="4.60" lengthAdjust="spacingAndGlyphs" >CR</text>
<rect x="427.58" y="160.10" width="7.32" height="12.70" fill="#ffcb94" />
<text x="431.24" y="168.40" font-size="5.6" fill="#333" text-anchor="middle" textLength="4.60" lengthAdjust="spacingAndGlyphs" >RE</text>
<rect x="434.90" y="147.60" width="7.32" height="12.50" fill="#0a34a6" />
<text x="438.56" y="155.90" font-size="5.6" fill="#fff" text-anchor="middle" textLength="4.60" lengthAdjust="spacingAndGlyphs" >CR</text>
<rect x="434.90" y="160.10" width="7.32" height="12.70" fill="#ffcb94" />
<text x="438.56" y="168.40" font-size="5.6" fill="#333" text-anchor="middle" textLength="4.60" lengthAdjust="spacingAndGlyphs" >RE</text>
<rect x="442.22" y="147.60" width="7.32" height="12.50" fill="#ee7fd6" />
<text x="445.88" y="155.90" font-size="5.6" fill="#333" text-anchor="middle" textLength="4.60" lengthAdjust="spacingAndGlyphs" >PD</text>
<rect x="442.22" y="160.10" width="7.32" height="12.70" fill="#e87dd2" />
<text x="445.88" y="168.40" font-size="5.6" fill="#333" text-anchor="middle" textLength="4.60" lengthAdjust="spacingAndGlyphs" >NR</text>
<rect x="449.54" y="147.60" width="7.32" height="12.50" fill="#ee7fd6" />
<text x="453.20" y="155.90" font-size="5.6" fill="#333" text-anchor="middle" textLength="4.60" lengthAdjust="spacingAndGlyphs" >PD</text>
<rect x="449.54" y="160.10" width="7.32" height="12.70" fill="#e87dd2" />
<text x="453.20" y="168.40" font-size="5.6" fill="#333" text-anchor="middle" textLength="4.60" lengthAdjust="spacingAndGlyphs" >NR</text>
<rect x="456.86" y="147.60" width="7.32" height="12.50" fill="#cc0016" />
<text x="460.52" y="155.90" font-size="5.6" fill="#fff" text-anchor="middle" textLength="4.60" lengthAdjust="spacingAndGlyphs" >SD</text>
<rect x="456.86" y="160.10" width="7.32" height="12.70" fill="#e87dd2" />
<text x="460.52" y="168.40" font-size="5.6" fill="#333" text-anchor="middle" textLength="4.60" lengthAdjust="spacingAndGlyphs" >NR</text>
<rect x="464.18" y="147.60" width="7.32" height="12.50" fill="#cc0016" />
<text x="467.84" y="155.90" font-size="5.6" fill="#fff" text-anchor="middle" textLength="4.60" lengthAdjust="spacingAndGlyphs" >SD</text>
<rect x="464.18" y="160.10" width="7.32" height="12.70" fill="#e87dd2" />
<text x="467.84" y="168.40" font-size="5.6" fill="#333" text-anchor="middle" textLength="4.60" lengthAdjust="spacingAndGlyphs" >NR</text>
<rect x="471.50" y="147.60" width="7.32" height="12.50" fill="#0a34a6" />
<text x="475.16" y="155.90" font-size="5.6" fill="#fff" text-anchor="middle" textLength="4.60" lengthAdjust="spacingAndGlyphs" >CR</text>
<rect x="471.50" y="160.10" width="7.32" height="12.70" fill="#a6ee8c" />
<text x="475.16" y="168.40" font-size="5.6" fill="#333" text-anchor="middle" textLength="3.00" lengthAdjust="spacingAndGlyphs" >O</text>
<rect x="478.82" y="147.60" width="7.32" height="12.50" fill="#ee7fd6" />
<text x="482.48" y="155.90" font-size="5.6" fill="#333" text-anchor="middle" textLength="4.60" lengthAdjust="spacingAndGlyphs" >PD</text>
<rect x="478.82" y="160.10" width="7.32" height="12.70" fill="#e87dd2" />
<text x="482.48" y="168.40" font-size="5.6" fill="#333" text-anchor="middle" textLength="4.60" lengthAdjust="spacingAndGlyphs" >NR</text>
<rect x="486.14" y="147.60" width="7.32" height="12.50" fill="#ee7fd6" />
<text x="489.80" y="155.90" font-size="5.6" fill="#333" text-anchor="middle" textLength="4.60" lengthAdjust="spacingAndGlyphs" >PD</text>
<rect x="486.14" y="160.10" width="7.32" height="12.70" fill="#e87dd2" />
<text x="489.80" y="168.40" font-size="5.6" fill="#333" text-anchor="middle" textLength="4.60" lengthAdjust="spacingAndGlyphs" >NR</text>
<rect x="493.46" y="147.60" width="7.32" height="12.50" fill="#0a34a6" />
<text x="497.12" y="155.90" font-size="5.6" fill="#fff" text-anchor="middle" textLength="4.60" lengthAdjust="spacingAndGlyphs" >CR</text>
<rect x="493.46" y="160.10" width="7.32" height="12.70" fill="#a6ee8c" />
<text x="497.12" y="168.40" font-size="5.6" fill="#333" text-anchor="middle" textLength="3.00" lengthAdjust="spacingAndGlyphs" >O</text>
<rect x="500.78" y="147.60" width="7.32" height="12.50" fill="#0a34a6" />
<text x="504.44" y="155.90" font-size="5.6" fill="#fff" text-anchor="middle" textLength="4.60" lengthAdjust="spacingAndGlyphs" >CR</text>
<rect x="500.78" y="160.10" width="7.32" height="12.70" fill="#a6ee8c" />
<text x="504.44" y="168.40" font-size="5.6" fill="#333" text-anchor="middle" textLength="3.00" lengthAdjust="spacingAndGlyphs" >O</text>
<line x1="229.94" y1="147.60" x2="229.94" y2="172.80" stroke="#151515" stroke-width="1.1" />
<line x1="237.26" y1="147.60" x2="237.26" y2="172.80" stroke="#151515" stroke-width="1.1" />
<line x1="244.58" y1="147.60" x2="244.58" y2="172.80" stroke="#151515" stroke-width="1.1" />
<line x1="251.90" y1="147.60" x2="251.90" y2="172.80" stroke="#151515" stroke-width="1.1" />
<line x1="259.22" y1="147.60" x2="259.22" y2="172.80" stroke="#151515" stroke-width="1.1" />
<line x1="266.54" y1="147.60" x2="266.54" y2="172.80" stroke="#151515" stroke-width="1.1" />
<line x1="273.86" y1="147.60" x2="273.86" y2="172.80" stroke="#151515" stroke-width="1.1" />
<line x1="281.18" y1="147.60" x2="281.18" y2="172.80" stroke="#151515" stroke-width="1.1" />
<line x1="288.50" y1="147.60" x2="288.50" y2="172.80" stroke="#151515" stroke-width="1.1" />
<line x1="295.82" y1="147.60" x2="295.82" y2="172.80" stroke="#151515" stroke-width="1.1" />
<line x1="303.14" y1="147.60" x2="303.14" y2="172.80" stroke="#151515" stroke-width="1.1" />
<line x1="310.46" y1="147.60" x2="310.46" y2="172.80" stroke="#151515" stroke-width="1.1" />
<line x1="317.78" y1="147.60" x2="317.78" y2="172.80" stroke="#151515" stroke-width="1.1" />
<line x1="325.10" y1="147.60" x2="325.10" y2="172.80" stroke="#151515" stroke-width="1.1" />
<line x1="332.42" y1="147.60" x2="332.42" y2="172.80" stroke="#151515" stroke-width="1.1" />
<line x1="339.74" y1="147.60" x2="339.74" y2="172.80" stroke="#151515" stroke-width="1.1" />
<line x1="347.06" y1="147.60" x2="347.06" y2="172.80" stroke="#151515" stroke-width="1.1" />
<line x1="354.38" y1="147.60" x2="354.38" y2="172.80" stroke="#151515" stroke-width="1.1" />
<line x1="361.70" y1="147.60" x2="361.70" y2="172.80" stroke="#151515" stroke-width="1.1" />
<line x1="369.02" y1="147.60" x2="369.02" y2="172.80" stroke="#151515" stroke-width="1.1" />
<line x1="376.34" y1="147.60" x2="376.34" y2="172.80" stroke="#151515" stroke-width="1.1" />
<line x1="383.66" y1="147.60" x2="383.66" y2="172.80" stroke="#151515" stroke-width="1.1" />
<line x1="390.98" y1="147.60" x2="390.98" y2="172.80" stroke="#151515" stroke-width="1.1" />
<line x1="398.30" y1="147.60" x2="398.30" y2="172.80" stroke="#151515" stroke-width="1.1" />
<line x1="405.62" y1="147.60" x2="405.62" y2="172.80" stroke="#151515" stroke-width="1.1" />
<line x1="412.94" y1="147.60" x2="412.94" y2="172.80" stroke="#151515" stroke-width="1.1" />
<line x1="420.26" y1="147.60" x2="420.26" y2="172.80" stroke="#151515" stroke-width="1.1" />
<line x1="427.58" y1="147.60" x2="427.58" y2="172.80" stroke="#151515" stroke-width="1.1" />
<line x1="434.90" y1="147.60" x2="434.90" y2="172.80" stroke="#151515" stroke-width="1.1" />
<line x1="442.22" y1="147.60" x2="442.22" y2="172.80" stroke="#151515" stroke-width="1.1" />
<line x1="449.54" y1="147.60" x2="449.54" y2="172.80" stroke="#151515" stroke-width="1.1" />
<line x1="456.86" y1="147.60" x2="456.86" y2="172.80" stroke="#151515" stroke-width="1.1" />
<line x1="464.18" y1="147.60" x2="464.18" y2="172.80" stroke="#151515" stroke-width="1.1" />
<line x1="471.50" y1="147.60" x2="471.50" y2="172.80" stroke="#151515" stroke-width="1.1" />
<line x1="478.82" y1="147.60" x2="478.82" y2="172.80" stroke="#151515" stroke-width="1.1" />
<line x1="486.14" y1="147.60" x2="486.14" y2="172.80" stroke="#151515" stroke-width="1.1" />
<line x1="493.46" y1="147.60" x2="493.46" y2="172.80" stroke="#151515" stroke-width="1.1" />
<line x1="500.78" y1="147.60" x2="500.78" y2="172.80" stroke="#151515" stroke-width="1.1" />
<line x1="508.10" y1="147.60" x2="508.10" y2="172.80" stroke="#151515" stroke-width="1.1" />
<line x1="229.44" y1="147.60" x2="508.60" y2="147.60" stroke="#151515" stroke-width="1.1" />
<line x1="229.94" y1="160.10" x2="508.10" y2="160.10" stroke="#151515" stroke-width="1.0" />
<line x1="229.44" y1="172.80" x2="508.60" y2="172.80" stroke="#151515" stroke-width="1.1" />
<text x="7.80" y="194.70" font-size="11.4" fill="#000" font-weight="bold" >C</text>
<polygon points="61.80,216.00 65.05,216.01 68.30,216.02 71.55,216.03 74.80,216.04 78.05,216.03 81.30,216.03 84.55,216.01 87.80,215.99 91.05,215.96 94.30,215.92 97.55,215.87 100.80,215.80 104.05,215.71 107.30,215.60 110.55,215.47 113.80,215.32 117.05,215.13 120.30,214.91 123.55,214.66 126.80,214.36 130.05,214.04 133.30,213.67 136.55,213.28 139.80,212.85 143.05,212.40 146.30,211.92 149.55,211.42 152.80,210.91 156.05,210.38 159.30,209.84 159.30,219.36 156.05,219.40 152.80,219.45 149.55,219.52 146.30,219.60 143.05,219.70 139.80,219.83 136.55,219.98 133.30,220.17 130.05,220.38 126.80,220.64 123.55,220.92 120.30,221.25 117.05,221.61 113.80,222.00 110.55,222.43 107.30,222.88 104.05,223.35 100.80,223.84 97.55,224.35 94.30,224.88 91.05,225.42 87.80,225.97 84.55,226.53 81.30,227.09 78.05,227.67 74.80,228.24 71.55,228.83 68.30,229.42 65.05,230.01 61.80,230.60" fill="#f5c5ea" />
<line x1="61.80" y1="223.30" x2="159.30" y2="214.60" stroke="#c8001e" stroke-width="1.6" />
<circle cx="139.40" cy="202.80" r="1.35" fill="#cc0018"/>
<circle cx="155.20" cy="202.80" r="1.35" fill="#cc0018"/>
<circle cx="159.00" cy="201.70" r="1.35" fill="#cc0018"/>
<circle cx="159.00" cy="205.60" r="1.35" fill="#cc0018"/>
<circle cx="149.00" cy="206.50" r="1.35" fill="#cc0018"/>
<circle cx="152.50" cy="206.50" r="1.35" fill="#cc0018"/>
<circle cx="116.70" cy="209.80" r="1.35" fill="#cc0018"/>
<circle cx="119.80" cy="211.70" r="1.35" fill="#cc0018"/>
<circle cx="120.40" cy="212.90" r="1.35" fill="#cc0018"/>
<circle cx="122.70" cy="214.00" r="1.35" fill="#cc0018"/>
<circle cx="123.80" cy="215.20" r="1.35" fill="#cc0018"/>
<circle cx="125.50" cy="214.80" r="1.35" fill="#cc0018"/>
<circle cx="127.60" cy="215.20" r="1.35" fill="#cc0018"/>
<circle cx="130.20" cy="214.60" r="1.35" fill="#cc0018"/>
<circle cx="136.30" cy="218.70" r="1.35" fill="#cc0018"/>
<circle cx="149.20" cy="217.80" r="1.35" fill="#cc0018"/>
<circle cx="119.80" cy="223.80" r="1.35" fill="#cc0018"/>
<circle cx="129.60" cy="223.80" r="1.35" fill="#cc0018"/>
<circle cx="145.80" cy="223.80" r="1.35" fill="#cc0018"/>
<circle cx="110.60" cy="237.90" r="1.35" fill="#cc0018"/>
<circle cx="65.20" cy="213.70" r="1.35" fill="#cc0018"/>
<circle cx="61.90" cy="216.90" r="1.35" fill="#cc0018"/>
<circle cx="61.90" cy="218.60" r="1.35" fill="#cc0018"/>
<circle cx="62.30" cy="220.20" r="1.35" fill="#cc0018"/>
<circle cx="62.60" cy="221.60" r="1.35" fill="#cc0018"/>
<circle cx="63.20" cy="222.60" r="1.35" fill="#cc0018"/>
<circle cx="62.00" cy="223.40" r="1.35" fill="#cc0018"/>
<circle cx="74.60" cy="216.00" r="1.35" fill="#cc0018"/>
<circle cx="78.10" cy="215.80" r="1.35" fill="#cc0018"/>
<circle cx="81.30" cy="212.50" r="1.35" fill="#cc0018"/>
<circle cx="81.30" cy="216.90" r="1.35" fill="#cc0018"/>
<circle cx="74.80" cy="226.40" r="1.35" fill="#cc0018"/>
<circle cx="104.00" cy="218.70" r="1.35" fill="#cc0018"/>
<circle cx="106.90" cy="217.20" r="1.35" fill="#cc0018"/>
<circle cx="106.90" cy="242.50" r="1.35" fill="#cc0018"/>
<circle cx="63.30" cy="244.00" r="1.35" fill="#cc0018"/>
<circle cx="126.10" cy="287.50" r="1.35" fill="#cc0018"/>
<circle cx="149.00" cy="261.50" r="1.35" fill="#cc0018"/>
<circle cx="138.85" cy="211.15" r="1.35" fill="#cc0018"/>
<circle cx="139.42" cy="212.88" r="1.35" fill="#cc0018"/>
<circle cx="140.00" cy="214.04" r="1.35" fill="#cc0018"/>
<circle cx="143.46" cy="211.73" r="1.35" fill="#cc0018"/>
<circle cx="144.61" cy="212.31" r="1.35" fill="#cc0018"/>
<circle cx="145.77" cy="213.46" r="1.35" fill="#cc0018"/>
<circle cx="146.92" cy="214.61" r="1.35" fill="#cc0018"/>
<circle cx="148.08" cy="211.15" r="1.35" fill="#cc0018"/>
<circle cx="149.23" cy="212.31" r="1.35" fill="#cc0018"/>
<circle cx="149.81" cy="214.04" r="1.35" fill="#cc0018"/>
<circle cx="150.96" cy="210.00" r="1.35" fill="#cc0018"/>
<circle cx="151.54" cy="215.19" r="1.35" fill="#cc0018"/>
<circle cx="152.69" cy="211.15" r="1.35" fill="#cc0018"/>
<circle cx="153.27" cy="213.46" r="1.35" fill="#cc0018"/>
<circle cx="153.84" cy="212.31" r="1.35" fill="#cc0018"/>
<circle cx="155.58" cy="212.88" r="1.35" fill="#cc0018"/>
<circle cx="156.73" cy="212.31" r="1.35" fill="#cc0018"/>
<circle cx="158.46" cy="210.00" r="1.35" fill="#cc0018"/>
<circle cx="159.04" cy="211.15" r="1.35" fill="#cc0018"/>
<circle cx="159.04" cy="213.46" r="1.35" fill="#cc0018"/>
<circle cx="159.04" cy="215.77" r="1.35" fill="#cc0018"/>
<circle cx="159.04" cy="218.08" r="1.35" fill="#cc0018"/>
<circle cx="159.04" cy="219.23" r="1.35" fill="#cc0018"/>
<circle cx="142.31" cy="213.46" r="1.35" fill="#cc0018"/>
<circle cx="148.65" cy="215.19" r="1.35" fill="#cc0018"/>
<circle cx="155.00" cy="214.61" r="1.35" fill="#cc0018"/>
<circle cx="157.31" cy="214.04" r="1.35" fill="#cc0018"/>
<circle cx="152.11" cy="212.31" r="1.35" fill="#cc0018"/>
<circle cx="144.61" cy="214.61" r="1.35" fill="#cc0018"/>
<rect x="56.40" y="197.40" width="106.90" height="94.80" fill="none" stroke="#111" stroke-width="1.3" />
<line x1="54.00" y1="208.30" x2="56.40" y2="208.30" stroke="#111" stroke-width="1.0" />
<text x="51.60" y="211.10" font-size="7.9" fill="#2a2a2a" text-anchor="end" >1000</text>
<line x1="54.00" y1="233.30" x2="56.40" y2="233.30" stroke="#111" stroke-width="1.0" />
<text x="51.60" y="236.10" font-size="7.9" fill="#2a2a2a" text-anchor="end" >100</text>
<line x1="54.00" y1="258.30" x2="56.40" y2="258.30" stroke="#111" stroke-width="1.0" />
<text x="51.60" y="261.10" font-size="7.9" fill="#2a2a2a" text-anchor="end" >10</text>
<line x1="54.00" y1="283.30" x2="56.40" y2="283.30" stroke="#111" stroke-width="1.0" />
<text x="51.60" y="286.10" font-size="7.9" fill="#2a2a2a" text-anchor="end" >1</text>
<line x1="61.80" y1="292.20" x2="61.80" y2="294.80" stroke="#111" stroke-width="1.0" />
<text x="61.80" y="303.70" font-size="8.3" fill="#2a2a2a" text-anchor="middle" >0</text>
<line x1="94.30" y1="292.20" x2="94.30" y2="294.80" stroke="#111" stroke-width="1.0" />
<text x="94.30" y="303.70" font-size="8.3" fill="#2a2a2a" text-anchor="middle" >100</text>
<line x1="126.80" y1="292.20" x2="126.80" y2="294.80" stroke="#111" stroke-width="1.0" />
<text x="126.80" y="303.70" font-size="8.3" fill="#2a2a2a" text-anchor="middle" >200</text>
<line x1="159.30" y1="292.20" x2="159.30" y2="294.80" stroke="#111" stroke-width="1.0" />
<text x="159.30" y="303.70" font-size="8.3" fill="#2a2a2a" text-anchor="middle" >300</text>
<text x="110.10" y="316.30" font-size="9.5" fill="#2a2a2a" text-anchor="middle" textLength="49.80" lengthAdjust="spacingAndGlyphs" >CD19 H-Score</text>
<text x="0" y="0" font-size="9.3" fill="#2a2a2a" text-anchor="middle" textLength="40.60" lengthAdjust="spacingAndGlyphs" transform="translate(31.30,244.10) rotate(-90)" >CD19 Gene</text>
<text x="59.60" y="205.30" font-size="7.2" fill="#333" textLength="0.10" lengthAdjust="spacingAndGlyphs" visibility="hidden">R = 0.51, </text>
<text x="59.6" y="205.4" font-size="7.7" fill="#333" textLength="74" lengthAdjust="spacingAndGlyphs"><tspan font-style="italic">R</tspan> = 0.51, <tspan font-style="italic">p</tspan> = 1.8×10<tspan font-size="4.0" dy="-3.0" fill="#777">−5</tspan></text>
<text x="228.10" y="197.00" font-size="7.6" fill="#333" textLength="100.00" lengthAdjust="spacingAndGlyphs" >Logistic Regression Model Fit</text>
<text x="228.10" y="205.3" font-size="7.6" fill="#333" textLength="57.0" lengthAdjust="spacingAndGlyphs"><tspan font-style="italic">p</tspan> = 0.794, n = 54</text>
<polygon points="232.00,237.00 232.78,237.28 233.78,237.65 234.98,238.10 236.31,238.60 237.75,239.13 239.25,239.67 240.76,240.20 242.26,240.69 243.68,241.14 245.00,241.50 246.24,241.81 247.45,242.10 248.64,242.37 249.82,242.62 251.00,242.83 252.18,243.02 253.36,243.17 254.55,243.29 255.76,243.36 257.00,243.40 258.23,243.42 259.42,243.44 260.61,243.44 261.79,243.41 263.00,243.33 264.25,243.20 265.55,242.99 266.94,242.70 268.41,242.31 270.00,241.80 271.74,241.14 273.63,240.32 275.64,239.38 277.74,238.35 279.88,237.25 282.02,236.13 284.15,235.01 286.21,233.92 288.17,232.91 290.00,232.00 291.70,231.17 293.32,230.37 294.87,229.60 296.36,228.87 297.81,228.15 299.24,227.45 300.66,226.78 302.08,226.11 303.52,225.45 305.00,224.80 306.52,224.16 308.07,223.52 309.64,222.90 311.21,222.29 312.78,221.70 314.32,221.12 315.82,220.56 317.28,220.02 318.68,219.50 320.00,219.00 321.29,218.51 322.57,218.02 323.84,217.54 325.07,217.08 326.24,216.64 327.33,216.23 328.34,215.85 329.23,215.52 329.99,215.23 330.60,215.00 330.60,288.80 329.99,288.62 329.23,288.39 328.34,288.13 327.33,287.83 326.24,287.50 325.07,287.15 323.84,286.78 322.57,286.39 321.29,286.00 320.00,285.60 318.68,285.18 317.28,284.74 315.82,284.27 314.32,283.78 312.78,283.28 311.21,282.77 309.64,282.26 308.07,281.76 306.52,281.27 305.00,280.80 303.50,280.34 302.00,279.89 300.50,279.45 299.00,279.01 297.50,278.57 296.00,278.14 294.50,277.71 293.00,277.27 291.50,276.84 290.00,276.40 288.50,275.95 286.98,275.47 285.47,274.99 283.95,274.50 282.44,274.01 280.93,273.54 279.43,273.10 277.94,272.69 276.46,272.32 275.00,272.00 273.57,271.71 272.17,271.44 270.79,271.19 269.42,270.97 268.06,270.78 266.70,270.63 265.32,270.54 263.91,270.49 262.48,270.51 261.00,270.60 259.47,270.77 257.88,271.01 256.25,271.32 254.60,271.68 252.94,272.09 251.28,272.54 249.64,273.02 248.04,273.51 246.49,274.01 245.00,274.50 243.52,275.04 242.00,275.65 240.47,276.31 238.96,277.00 237.50,277.69 236.12,278.37 234.85,279.00 233.72,279.57 232.76,280.04 232.00,280.40" fill="#f5c5ea" />
<line x1="232.00" y1="260.70" x2="330.60" y2="251.20" stroke="#c8001e" stroke-width="1.5" />
<rect x="227.60" y="210.40" width="105.90" height="81.20" fill="none" stroke="#111" stroke-width="1.3" />
<line x1="224.80" y1="227.00" x2="227.60" y2="227.00" stroke="#111" stroke-width="1.0" />
<text x="222.80" y="229.90" font-size="8.4" fill="#2a2a2a" text-anchor="end" >0.75</text>
<line x1="224.80" y1="251.90" x2="227.60" y2="251.90" stroke="#111" stroke-width="1.0" />
<text x="222.80" y="254.80" font-size="8.4" fill="#2a2a2a" text-anchor="end" >0.50</text>
<line x1="224.80" y1="277.30" x2="227.60" y2="277.30" stroke="#111" stroke-width="1.0" />
<text x="222.80" y="280.20" font-size="8.4" fill="#2a2a2a" text-anchor="end" >0.25</text>
<line x1="232.00" y1="291.60" x2="232.00" y2="294.40" stroke="#111" stroke-width="1.0" />
<text x="232.00" y="303.50" font-size="8.4" fill="#2a2a2a" text-anchor="middle" >0</text>
<line x1="259.70" y1="291.60" x2="259.70" y2="294.40" stroke="#111" stroke-width="1.0" />
<text x="259.70" y="303.50" font-size="8.4" fill="#2a2a2a" text-anchor="middle" >500</text>
<line x1="286.90" y1="291.60" x2="286.90" y2="294.40" stroke="#111" stroke-width="1.0" />
<text x="286.90" y="303.50" font-size="8.4" fill="#2a2a2a" text-anchor="middle" >1000</text>
<line x1="314.20" y1="291.60" x2="314.20" y2="294.40" stroke="#111" stroke-width="1.0" />
<text x="314.20" y="303.50" font-size="8.4" fill="#2a2a2a" text-anchor="middle" >1500</text>
<text x="280.55" y="316.40" font-size="9.4" fill="#2a2a2a" text-anchor="middle" textLength="40.80" lengthAdjust="spacingAndGlyphs" >CD19 Gene</text>
<text x="0" y="0" font-size="8.6" fill="#333" text-anchor="middle" textLength="48.50" lengthAdjust="spacingAndGlyphs" transform="translate(187.60,243.50) rotate(-90)" >Probability of</text>
<text x="0" y="0" font-size="8.6" fill="#333" text-anchor="middle" textLength="65.00" lengthAdjust="spacingAndGlyphs" transform="translate(200.60,244.20) rotate(-90)" >ongoing response</text>
<text x="403.30" y="197.00" font-size="7.6" fill="#333" textLength="100.00" lengthAdjust="spacingAndGlyphs" >Logistic Regression Model Fit</text>
<text x="403.30" y="205.3" font-size="7.6" fill="#333" textLength="57.0" lengthAdjust="spacingAndGlyphs"><tspan font-style="italic">p</tspan> = 0.781, n = 80</text>
<polygon points="406.20,214.50 407.00,214.79 407.99,215.15 409.16,215.57 410.47,216.04 411.90,216.56 413.43,217.12 415.03,217.70 416.67,218.29 418.34,218.90 420.00,219.50 421.72,220.12 423.55,220.78 425.47,221.47 427.45,222.18 429.47,222.91 431.51,223.64 433.52,224.37 435.49,225.10 437.39,225.81 439.20,226.50 440.91,227.18 442.55,227.86 444.13,228.54 445.68,229.22 447.20,229.89 448.71,230.55 450.23,231.19 451.78,231.82 453.36,232.42 455.00,233.00 456.69,233.58 458.41,234.17 460.15,234.76 461.92,235.34 463.70,235.89 465.49,236.40 467.28,236.86 469.06,237.26 470.84,237.57 472.60,237.80 474.36,237.93 476.12,237.98 477.90,237.95 479.67,237.86 481.44,237.71 483.19,237.52 484.93,237.30 486.65,237.04 488.34,236.77 490.00,236.50 491.69,236.18 493.45,235.78 495.25,235.32 497.04,234.83 498.79,234.32 500.44,233.82 501.97,233.34 503.34,232.92 504.49,232.56 505.40,232.30 505.40,283.80 504.49,283.35 503.34,282.74 501.97,282.01 500.44,281.20 498.79,280.34 497.04,279.47 495.25,278.61 493.45,277.81 491.69,277.09 490.00,276.50 488.34,276.00 486.65,275.53 484.93,275.11 483.19,274.72 481.44,274.38 479.67,274.09 477.90,273.84 476.12,273.64 474.36,273.49 472.60,273.40 470.84,273.37 469.06,273.41 467.28,273.51 465.49,273.66 463.70,273.86 461.92,274.09 460.15,274.34 458.41,274.62 456.69,274.91 455.00,275.20 453.36,275.51 451.78,275.85 450.23,276.23 448.71,276.63 447.20,277.04 445.68,277.47 444.13,277.91 442.55,278.35 440.91,278.78 439.20,279.20 437.39,279.62 435.49,280.04 433.52,280.47 431.51,280.90 429.47,281.34 427.45,281.77 425.47,282.21 423.55,282.64 421.72,283.07 420.00,283.50 418.34,283.94 416.67,284.41 415.03,284.90 413.43,285.39 411.90,285.87 410.47,286.33 409.16,286.75 407.99,287.13 407.00,287.45 406.20,287.70" fill="#f5c5ea" />
<line x1="406.20" y1="250.60" x2="505.40" y2="258.20" stroke="#c8001e" stroke-width="1.5" />
<rect x="402.80" y="210.40" width="105.60" height="81.20" fill="none" stroke="#111" stroke-width="1.3" />
<line x1="400.00" y1="223.80" x2="402.80" y2="223.80" stroke="#111" stroke-width="1.0" />
<text x="398.00" y="226.70" font-size="8.4" fill="#2a2a2a" text-anchor="end" >0.7</text>
<line x1="400.00" y1="240.40" x2="402.80" y2="240.40" stroke="#111" stroke-width="1.0" />
<text x="398.00" y="243.30" font-size="8.4" fill="#2a2a2a" text-anchor="end" >0.6</text>
<line x1="400.00" y1="257.20" x2="402.80" y2="257.20" stroke="#111" stroke-width="1.0" />
<text x="398.00" y="260.10" font-size="8.4" fill="#2a2a2a" text-anchor="end" >0.5</text>
<line x1="400.00" y1="273.90" x2="402.80" y2="273.90" stroke="#111" stroke-width="1.0" />
<text x="398.00" y="276.80" font-size="8.4" fill="#2a2a2a" text-anchor="end" >0.4</text>
<line x1="400.00" y1="290.70" x2="402.80" y2="290.70" stroke="#111" stroke-width="1.0" />
<text x="398.00" y="293.60" font-size="8.4" fill="#2a2a2a" text-anchor="end" >0.3</text>
<line x1="406.20" y1="291.60" x2="406.20" y2="294.40" stroke="#111" stroke-width="1.0" />
<text x="406.20" y="303.50" font-size="8.4" fill="#2a2a2a" text-anchor="middle" >0</text>
<line x1="439.90" y1="291.60" x2="439.90" y2="294.40" stroke="#111" stroke-width="1.0" />
<text x="439.90" y="303.50" font-size="8.4" fill="#2a2a2a" text-anchor="middle" >100</text>
<line x1="473.50" y1="291.60" x2="473.50" y2="294.40" stroke="#111" stroke-width="1.0" />
<text x="473.50" y="303.50" font-size="8.4" fill="#2a2a2a" text-anchor="middle" >200</text>
<line x1="507.20" y1="291.60" x2="507.20" y2="294.40" stroke="#111" stroke-width="1.0" />
<text x="507.20" y="303.50" font-size="8.4" fill="#2a2a2a" text-anchor="middle" >300</text>
<text x="455.60" y="316.40" font-size="9.4" fill="#2a2a2a" text-anchor="middle" textLength="49.00" lengthAdjust="spacingAndGlyphs" >CD19 H-Score</text>
<text x="0" y="0" font-size="8.6" fill="#333" text-anchor="middle" textLength="48.50" lengthAdjust="spacingAndGlyphs" transform="translate(360.50,243.50) rotate(-90)" >Probability of</text>
<text x="0" y="0" font-size="8.6" fill="#333" text-anchor="middle" textLength="65.00" lengthAdjust="spacingAndGlyphs" transform="translate(373.50,244.20) rotate(-90)" >ongoing response</text>
<text x="6.80" y="331.00" font-size="11.4" fill="#000" font-weight="bold" >D</text>
<text x="7.00" y="342.60" font-size="9.6" fill="#222" textLength="57.20" lengthAdjust="spacingAndGlyphs" >Pretreatment</text>
<text x="25.20" y="357.00" font-size="8.7" fill="#333" text-anchor="middle" textLength="36.00" lengthAdjust="spacingAndGlyphs" >Patient 34</text>
<text x="25.20" y="366.20" font-size="8.7" fill="#333" text-anchor="middle" textLength="9.00" lengthAdjust="spacingAndGlyphs" >SE</text>
<text x="25.20" y="382.80" font-size="8.7" fill="#333" text-anchor="middle" textLength="36.00" lengthAdjust="spacingAndGlyphs" >Patient 40</text>
<text x="25.20" y="392.00" font-size="8.7" fill="#333" text-anchor="middle" textLength="18.00" lengthAdjust="spacingAndGlyphs" >A3SS</text>
<text x="25.20" y="413.80" font-size="8.7" fill="#333" text-anchor="middle" textLength="36.00" lengthAdjust="spacingAndGlyphs" >Patient 34</text>
<text x="25.20" y="422.60" font-size="8.7" fill="#333" text-anchor="middle" textLength="15.50" lengthAdjust="spacingAndGlyphs" >MXE</text>
<text x="25.20" y="441.70" font-size="8.7" fill="#333" text-anchor="middle" textLength="36.00" lengthAdjust="spacingAndGlyphs" >Patient 34</text>
<text x="25.20" y="449.80" font-size="8.7" fill="#333" text-anchor="middle" textLength="29.70" lengthAdjust="spacingAndGlyphs" >RI (Add)</text>
<text x="27.50" y="470.00" font-size="8.7" fill="#333" text-anchor="middle" textLength="23.10" lengthAdjust="spacingAndGlyphs" >Paired</text>
<text x="27.50" y="479.60" font-size="8.7" fill="#333" text-anchor="middle" textLength="31.20" lengthAdjust="spacingAndGlyphs" >Patient 4</text>
<rect x="53.60" y="350.40" width="111.60" height="15.90" fill="#eef2f5" stroke="#333" stroke-width="1.6" />
<rect x="53.60" y="349.80" width="111.60" height="1.80" fill="#444" />
<rect x="54.40" y="351.20" width="110.00" height="2.00" fill="#e4e9ee" />
<line x1="55.00" y1="358.00" x2="164.00" y2="358.00" stroke="#c8d4dc" stroke-width="0.7" />
<polyline points="57.00,358.20 58.00,359.10 59.00,358.20 60.00,357.30 61.00,358.20 62.00,359.10 63.00,358.20 64.00,357.30 65.00,358.20 66.00,359.10 67.00,358.20 68.00,357.30 69.00,358.20 70.00,359.10 71.00,358.20 72.00,357.30 73.00,358.20 74.00,359.10 75.00,358.20 76.00,357.30 77.00,358.20" fill="none" stroke="#7aa6e6" stroke-width="0.8" />
<polygon points="59.73,358.60 60.35,355.80 60.65,355.80 61.27,358.60" fill="#2a6ad8" />
<polygon points="63.03,358.60 63.65,355.80 63.95,355.80 64.57,358.60" fill="#2a6ad8" />
<polygon points="65.03,358.60 65.65,355.80 65.95,355.80 66.57,358.60" fill="#2a6ad8" />
<polygon points="70.23,358.60 70.85,355.80 71.15,355.80 71.77,358.60" fill="#2a6ad8" />
<polygon points="72.23,358.60 72.85,355.80 73.15,355.80 73.77,358.60" fill="#2a6ad8" />
<polygon points="75.43,358.60 76.05,355.80 76.35,355.80 76.97,358.60" fill="#2a6ad8" />
<ellipse cx="90.60" cy="357.00" rx="14.00" ry="2.70" fill="none" stroke="#7aa6e6" stroke-width="0.8"/>
<ellipse cx="90.60" cy="356.40" rx="12.00" ry="1.60" fill="none" stroke="#a8c4ea" stroke-width="0.6"/>
<ellipse cx="110.50" cy="356.60" rx="6.30" ry="3.80" fill="none" stroke="#7aa6e6" stroke-width="0.9"/>
<polygon points="103.90,359.50 104.45,353.50 104.75,353.50 105.30,359.50" fill="#2a6ad8" />
<polygon points="115.80,359.50 116.35,353.50 116.65,353.50 117.20,359.50" fill="#2a6ad8" />
<text x="109.00" y="357.50" font-size="5" fill="#222" >!</text>
<polygon points="125.97,359.20 126.45,352.60 126.75,352.60 127.23,359.20" fill="#2a6ad8" />
<polygon points="127.77,359.20 128.25,352.60 128.55,352.60 129.03,359.20" fill="#2a6ad8" />
<polygon points="129.37,359.20 129.85,352.60 130.15,352.60 130.63,359.20" fill="#2a6ad8" />
<polygon points="131.37,359.20 131.85,352.60 132.15,352.60 132.63,359.20" fill="#2a6ad8" />
<polygon points="133.37,359.20 133.85,352.60 134.15,352.60 134.63,359.20" fill="#2a6ad8" />
<ellipse cx="140.40" cy="357.80" rx="4.80" ry="2.20" fill="none" stroke="#7aa6e6" stroke-width="0.8"/>
<polygon points="146.64,359.20 147.05,353.60 147.35,353.60 147.76,359.20" fill="#2a6ad8" />
<polygon points="148.64,359.20 149.05,353.60 149.35,353.60 149.76,359.20" fill="#2a6ad8" />
<polygon points="150.24,359.20 150.65,353.60 150.95,353.60 151.36,359.20" fill="#2a6ad8" />
<line x1="118.00" y1="358.00" x2="124.50" y2="358.00" stroke="#7aa6e6" stroke-width="0.8" />
<text x="72.80" y="365.00" font-size="6.0" fill="#333" textLength="27.30" lengthAdjust="spacingAndGlyphs" >Exon 5 skip</text>
<text x="109.70" y="365.00" font-size="6.0" fill="#333" textLength="26.60" lengthAdjust="spacingAndGlyphs" >Exon 6 skip</text>
<rect x="53.70" y="370.70" width="106.30" height="25.90" fill="#eef2f5" stroke="#333" stroke-width="1.6" />
<rect x="53.70" y="370.10" width="106.30" height="1.80" fill="#444" />
<rect x="160.00" y="370.70" width="46.20" height="25.90" fill="#eef2f5" stroke="#333" stroke-width="1.6" />
<rect x="160.00" y="370.10" width="46.20" height="1.80" fill="#444" />
<line x1="55.00" y1="385.20" x2="159.00" y2="385.20" stroke="#c8d4dc" stroke-width="0.7" />
<polyline points="60.00,385.00 61.25,387.00 62.50,385.00 63.75,383.00 65.00,385.00 66.25,387.00 67.50,385.00 68.75,383.00 70.00,385.00 71.25,387.00 72.50,385.00 73.75,383.00 75.00,385.00 76.25,387.00 77.50,385.00 78.75,383.00 80.00,385.00" fill="none" stroke="#7aa6e6" stroke-width="0.8" />
<polygon points="65.23,386.60 65.85,382.00 66.15,382.00 66.77,386.60" fill="#2a6ad8" />
<polygon points="68.23,386.60 68.85,382.00 69.15,382.00 69.77,386.60" fill="#2a6ad8" />
<polygon points="72.73,386.60 73.35,382.00 73.65,382.00 74.27,386.60" fill="#2a6ad8" />
<polygon points="74.73,386.60 75.35,382.00 75.65,382.00 76.27,386.60" fill="#2a6ad8" />
<polygon points="77.43,386.60 78.05,382.00 78.35,382.00 78.97,386.60" fill="#2a6ad8" />
<ellipse cx="93.50" cy="383.80" rx="14.00" ry="5.00" fill="none" stroke="#7aa6e6" stroke-width="0.8"/>
<ellipse cx="93.50" cy="383.00" rx="12.00" ry="3.00" fill="none" stroke="#a8c4ea" stroke-width="0.6"/>
<path d="M106.80,386.00 C106.80,373.00 115.20,373.00 115.20,386.00" fill="none" stroke="#7aa6e6" stroke-width="0.9"/>
<path d="M108.00,386.00 C108.00,375.00 114.00,375.00 114.00,386.00" fill="none" stroke="#a8c4ea" stroke-width="0.7"/>
<polygon points="105.97,387.00 106.45,379.00 106.75,379.00 107.23,387.00" fill="#2a6ad8" />
<polygon points="107.37,387.00 107.85,379.00 108.15,379.00 108.63,387.00" fill="#2a6ad8" />
<polygon points="113.17,387.00 113.65,379.00 113.95,379.00 114.43,387.00" fill="#2a6ad8" />
<polygon points="119.14,387.00 119.55,380.50 119.85,380.50 120.26,387.00" fill="#2a6ad8" />
<polygon points="121.44,387.00 121.85,380.50 122.15,380.50 122.56,387.00" fill="#2a6ad8" />
<polygon points="124.64,387.00 125.05,380.50 125.35,380.50 125.76,387.00" fill="#2a6ad8" />
<polygon points="128.57,388.00 129.05,374.50 129.35,374.50 129.83,388.00" fill="#2a6ad8" />
<polygon points="130.87,388.00 131.35,374.50 131.65,374.50 132.13,388.00" fill="#2a6ad8" />
<polygon points="132.87,388.00 133.35,374.50 133.65,374.50 134.13,388.00" fill="#2a6ad8" />
<polygon points="134.37,388.00 134.85,374.50 135.15,374.50 135.63,388.00" fill="#2a6ad8" />
<ellipse cx="142.20" cy="386.50" rx="3.60" ry="4.20" fill="none" stroke="#7aa6e6" stroke-width="0.8"/>
<polygon points="147.87,388.00 148.35,374.50 148.65,374.50 149.13,388.00" fill="#2a6ad8" />
<text x="141.60" y="380.40" font-size="5" fill="#222" >!</text>
<polyline points="148.50,386.20 155.00,384.00 160.50,383.40" fill="none" stroke="#222" stroke-width="0.6" />
<polygon points="161.50,383.40 158.60,382.00 158.60,384.80" fill="#222" />
<text x="120.60" y="394.30" font-size="6.8" fill="#333" textLength="34.60" lengthAdjust="spacingAndGlyphs" >Exon 13 A3SS</text>
<polygon points="164.80,384.30 188.00,384.00 188.00,387.40 164.80,387.60" fill="#a6c4ee" />
<rect x="187.90" y="372.40" width="16.90" height="14.40" fill="#4a82e0" />
<line x1="188.40" y1="372.40" x2="188.40" y2="386.80" stroke="#2056c8" stroke-width="0.6" />
<line x1="189.80" y1="372.40" x2="189.80" y2="386.80" stroke="#2056c8" stroke-width="0.6" />
<line x1="191.20" y1="372.40" x2="191.20" y2="386.80" stroke="#2056c8" stroke-width="0.6" />
<line x1="192.60" y1="372.40" x2="192.60" y2="386.80" stroke="#2056c8" stroke-width="0.6" />
<line x1="194.00" y1="372.40" x2="194.00" y2="386.80" stroke="#2056c8" stroke-width="0.6" />
<line x1="195.40" y1="372.40" x2="195.40" y2="386.80" stroke="#2056c8" stroke-width="0.6" />
<line x1="196.80" y1="372.40" x2="196.80" y2="386.80" stroke="#2056c8" stroke-width="0.6" />
<line x1="198.20" y1="372.40" x2="198.20" y2="386.80" stroke="#2056c8" stroke-width="0.6" />
<line x1="199.60" y1="372.40" x2="199.60" y2="386.80" stroke="#2056c8" stroke-width="0.6" />
<line x1="201.00" y1="372.40" x2="201.00" y2="386.80" stroke="#2056c8" stroke-width="0.6" />
<line x1="202.40" y1="372.40" x2="202.40" y2="386.80" stroke="#2056c8" stroke-width="0.6" />
<line x1="203.80" y1="372.40" x2="203.80" y2="386.80" stroke="#2056c8" stroke-width="0.6" />
<rect x="54.00" y="397.80" width="101.00" height="32.80" fill="#eef2f5" stroke="#333" stroke-width="1.6" />
<rect x="54.00" y="397.20" width="101.00" height="1.80" fill="#444" />
<rect x="54.80" y="398.60" width="99.40" height="1.60" fill="#d8dde2" />
<line x1="55.00" y1="414.80" x2="154.00" y2="414.80" stroke="#c8d4dc" stroke-width="0.7" />
<polyline points="62.00,414.60 63.12,416.80 64.25,414.60 65.38,412.40 66.50,414.60 67.62,416.80 68.75,414.60 69.88,412.40 71.00,414.60 72.12,416.80 73.25,414.60 74.38,412.40 75.50,414.60 76.62,416.80 77.75,414.60 78.88,412.40 80.00,414.60" fill="none" stroke="#7aa6e6" stroke-width="0.8" />
<polygon points="63.43,416.50 64.05,411.00 64.35,411.00 64.97,416.50" fill="#2a6ad8" />
<polygon points="66.23,416.50 66.85,411.00 67.15,411.00 67.77,416.50" fill="#2a6ad8" />
<polygon points="69.73,416.50 70.35,411.00 70.65,411.00 71.27,416.50" fill="#2a6ad8" />
<polygon points="72.23,416.50 72.85,411.00 73.15,411.00 73.77,416.50" fill="#2a6ad8" />
<polygon points="74.73,416.50 75.35,411.00 75.65,411.00 76.27,416.50" fill="#2a6ad8" />
<polygon points="78.03,416.50 78.65,411.00 78.95,411.00 79.57,416.50" fill="#2a6ad8" />
<ellipse cx="92.80" cy="413.60" rx="13.30" ry="5.20" fill="none" stroke="#7aa6e6" stroke-width="0.8"/>
<ellipse cx="92.80" cy="413.00" rx="11.00" ry="3.20" fill="none" stroke="#a8c4ea" stroke-width="0.6"/>
<path d="M104.00,414.80 C104.00,400.00 117.20,400.00 117.20,414.80" fill="none" stroke="#7aa6e6" stroke-width="0.9"/>
<path d="M106.00,414.80 C106.00,402.00 116.00,402.00 116.00,414.80" fill="none" stroke="#a8c4ea" stroke-width="0.7"/>
<polygon points="103.30,416.00 103.85,404.00 104.15,404.00 104.70,416.00" fill="#2a6ad8" />
<polygon points="111.40,416.00 111.95,404.00 112.25,404.00 112.80,416.00" fill="#2a6ad8" />
<polygon points="126.77,418.00 127.25,403.00 127.55,403.00 128.03,418.00" fill="#2a6ad8" />
<polygon points="128.37,418.00 128.85,403.00 129.15,403.00 129.63,418.00" fill="#2a6ad8" />
<polygon points="130.17,418.00 130.65,403.00 130.95,403.00 131.43,418.00" fill="#2a6ad8" />
<polygon points="131.87,418.00 132.35,403.00 132.65,403.00 133.13,418.00" fill="#2a6ad8" />
<ellipse cx="137.60" cy="415.00" rx="4.10" ry="5.00" fill="none" stroke="#7aa6e6" stroke-width="0.8"/>
<polygon points="142.07,417.50 142.55,404.50 142.85,404.50 143.33,417.50" fill="#2a6ad8" />
<polygon points="146.17,417.50 146.65,404.50 146.95,404.50 147.43,417.50" fill="#2a6ad8" />
<text x="59.70" y="404.60" font-size="6.8" fill="#333" textLength="32.00" lengthAdjust="spacingAndGlyphs" >Exon 5,6 MXE</text>
<text x="93.80" y="428.20" font-size="6.8" fill="#333" textLength="32.60" lengthAdjust="spacingAndGlyphs" >Exon 5,6 MXE</text>
<line x1="92.00" y1="401.60" x2="104.50" y2="402.60" stroke="#222" stroke-width="0.6" />
<line x1="96.00" y1="402.80" x2="94.60" y2="406.80" stroke="#222" stroke-width="0.6" />
<line x1="98.00" y1="423.00" x2="97.00" y2="418.50" stroke="#222" stroke-width="0.6" />
<line x1="100.00" y1="423.00" x2="112.50" y2="416.00" stroke="#222" stroke-width="0.6" />
<rect x="53.40" y="435.90" width="150.00" height="14.40" fill="#f7f9f9" stroke="#333" stroke-width="1.6" />
<rect x="53.40" y="435.30" width="150.00" height="1.80" fill="#444" />
<rect x="54.20" y="436.70" width="30.10" height="4.00" fill="#98aaaa" />
<rect x="54.20" y="440.70" width="30.10" height="8.80" fill="#c9d5d5" />
<rect x="116.60" y="436.70" width="22.90" height="4.00" fill="#98aaaa" />
<rect x="116.60" y="440.70" width="22.90" height="8.80" fill="#c9d5d5" />
<rect x="151.80" y="436.70" width="14.70" height="4.00" fill="#98aaaa" />
<rect x="151.80" y="440.70" width="14.70" height="8.80" fill="#c9d5d5" />
<rect x="191.00" y="436.70" width="11.60" height="4.00" fill="#98aaaa" />
<rect x="191.00" y="440.70" width="11.60" height="8.80" fill="#c9d5d5" />
<line x1="84.30" y1="439.00" x2="116.60" y2="439.00" stroke="#b7c6c6" stroke-width="0.8" />
<rect x="103.68" y="441.00" width="12.92" height="2.00" fill="#e4ebeb" />
<line x1="166.50" y1="439.00" x2="191.00" y2="439.00" stroke="#b7c6c6" stroke-width="0.8" />
<rect x="181.20" y="441.00" width="9.80" height="2.00" fill="#e4ebeb" />
<line x1="62.00" y1="436.70" x2="62.00" y2="441.00" stroke="#d04040" stroke-width="0.7" />
<line x1="66.00" y1="436.70" x2="66.00" y2="441.00" stroke="#3050d0" stroke-width="0.7" />
<line x1="74.00" y1="436.70" x2="74.00" y2="441.00" stroke="#3050d0" stroke-width="0.7" />
<line x1="80.00" y1="436.70" x2="80.00" y2="441.00" stroke="#d04040" stroke-width="0.7" />
<line x1="82.00" y1="436.70" x2="82.00" y2="441.00" stroke="#3050d0" stroke-width="0.7" />
<line x1="118.00" y1="436.70" x2="118.00" y2="441.00" stroke="#d04040" stroke-width="0.7" />
<line x1="124.00" y1="436.70" x2="124.00" y2="441.00" stroke="#3050d0" stroke-width="0.7" />
<line x1="137.00" y1="436.70" x2="137.00" y2="441.00" stroke="#3050d0" stroke-width="0.7" />
<line x1="154.00" y1="436.70" x2="154.00" y2="441.00" stroke="#d04040" stroke-width="0.7" />
<line x1="165.00" y1="436.70" x2="165.00" y2="441.00" stroke="#3050d0" stroke-width="0.7" />
<line x1="188.00" y1="436.70" x2="188.00" y2="441.00" stroke="#d04040" stroke-width="0.7" />
<line x1="193.00" y1="436.70" x2="193.00" y2="441.00" stroke="#3050d0" stroke-width="0.7" />
<line x1="201.00" y1="436.70" x2="201.00" y2="441.00" stroke="#3050d0" stroke-width="0.7" />
<line x1="185.50" y1="440.00" x2="191.80" y2="444.20" stroke="#222" stroke-width="0.6" />
<text x="192.40" y="447.60" font-size="5.2" fill="#222" >RI</text>
<rect x="53.50" y="461.90" width="135.10" height="21.70" fill="#f3f5f4" stroke="#333" stroke-width="1.6" />
<rect x="53.50" y="461.30" width="135.10" height="1.80" fill="#444" />
<line x1="54.50" y1="471.90" x2="187.60" y2="471.90" stroke="#d6dcdc" stroke-width="0.8" />
<rect x="54.30" y="472.40" width="133.50" height="10.40" fill="#eceeee" />
<text x="55.40" y="469.40" font-size="7.0" fill="#f08a34" textLength="25.50" lengthAdjust="spacingAndGlyphs" >Exon 5 skip</text>
<text x="55.40" y="479.80" font-size="7.0" fill="#ec9050" textLength="25.50" lengthAdjust="spacingAndGlyphs" >Exon 2 skip</text>
<path d="M81,468.6 C85,466 88,464 92,464.3 C94,464.6 95,468 97.5,468 C101,467.4 105,465.6 111,465.4 L130,465.4 L130,465.4 C130.5,469.0 135.5,469.0 136,465.4 L138,465.4 C138.5,468.4 142.5,468.4 143,465.4 L145,465.4 C145.5,469.2 149.5,469.2 150,465.4 L152,465.4 C152.5,468.59999999999997 157.5,468.59999999999997 158,465.4 L160,465.4 C160.5,469.2 165.5,469.2 166,465.4 L168,465.4 C168.5,468.0 171.5,468.0 172,465.4 L174,465.4 C174.5,469.4 181.5,469.4 182,465.4 L187,465.4" fill="none" stroke="#5ae04c" stroke-width="0.9"/>
<line x1="130.00" y1="463.60" x2="130.00" y2="466.50" stroke="#5ae04c" stroke-width="0.9" />
<line x1="136.50" y1="463.60" x2="136.50" y2="466.50" stroke="#5ae04c" stroke-width="0.9" />
<line x1="144.00" y1="463.60" x2="144.00" y2="466.50" stroke="#5ae04c" stroke-width="0.9" />
<line x1="151.00" y1="463.60" x2="151.00" y2="466.50" stroke="#5ae04c" stroke-width="0.9" />
<line x1="159.00" y1="463.60" x2="159.00" y2="466.50" stroke="#5ae04c" stroke-width="0.9" />
<line x1="167.00" y1="463.60" x2="167.00" y2="466.50" stroke="#5ae04c" stroke-width="0.9" />
<line x1="173.00" y1="463.60" x2="173.00" y2="466.50" stroke="#5ae04c" stroke-width="0.9" />
<line x1="183.00" y1="463.60" x2="183.00" y2="466.50" stroke="#5ae04c" stroke-width="0.9" />
<path d="M81,476.2 C84,475 86,477 89,475.8 C100,479.6 120,479.6 130,475.6 L130,475.6 C130.5,478.20000000000005 135.5,478.20000000000005 136,475.6 L138,475.6 C138.5,478.0 142.5,478.0 143,475.6 L145,475.6 C145.5,478.40000000000003 149.5,478.40000000000003 150,475.6 L152,475.6 C152.5,477.8 157.5,477.8 158,475.6 L160,475.6 C160.5,478.40000000000003 165.5,478.40000000000003 166,475.6 L168,475.6 C168.5,477.6 171.5,477.6 172,475.6 L174,475.6 C174.5,478.6 181.5,478.6 182,475.6 L187,475.6" fill="none" stroke="#b9442c" stroke-width="0.9"/>
<path d="M92,475.8 C104,473.6 118,473.6 130,475.6" fill="none" stroke="#d89a8a" stroke-width="0.6"/>
<line x1="107.00" y1="473.20" x2="107.00" y2="476.60" stroke="#b9442c" stroke-width="0.9" />
<line x1="130.00" y1="473.20" x2="130.00" y2="476.60" stroke="#b9442c" stroke-width="0.9" />
<line x1="137.00" y1="473.20" x2="137.00" y2="476.60" stroke="#b9442c" stroke-width="0.9" />
<line x1="144.00" y1="473.20" x2="144.00" y2="476.60" stroke="#b9442c" stroke-width="0.9" />
<line x1="151.00" y1="473.20" x2="151.00" y2="476.60" stroke="#b9442c" stroke-width="0.9" />
<line x1="159.00" y1="473.20" x2="159.00" y2="476.60" stroke="#b9442c" stroke-width="0.9" />
<line x1="167.00" y1="473.20" x2="167.00" y2="476.60" stroke="#b9442c" stroke-width="0.9" />
<line x1="173.00" y1="473.20" x2="173.00" y2="476.60" stroke="#b9442c" stroke-width="0.9" />
<line x1="183.00" y1="473.20" x2="183.00" y2="476.60" stroke="#b9442c" stroke-width="0.9" />
<line x1="86.30" y1="469.60" x2="86.30" y2="473.60" stroke="#222" stroke-width="1.1" />
<polygon points="85.00,473.00 87.60,473.00 86.30,475.00" fill="#222" />
<line x1="123.80" y1="468.00" x2="123.80" y2="472.40" stroke="#222" stroke-width="1.0" />
<polygon points="122.60,468.60 125.00,468.60 123.80,466.80" fill="#222" />
<text x="191.00" y="469.40" font-size="6.6" fill="#222" textLength="39.20" lengthAdjust="spacingAndGlyphs" >Pre treatment</text>
<text x="191.00" y="478.00" font-size="6.6" fill="#222" textLength="22.50" lengthAdjust="spacingAndGlyphs" >Relapse</text>
<text x="214.10" y="331.00" font-size="11.4" fill="#000" font-weight="bold" >E</text>
<text x="276.90" y="357.60" font-size="9.0" fill="#222" text-anchor="middle" textLength="44.20" lengthAdjust="spacingAndGlyphs" >Pretreatment</text>
<text x="345.40" y="357.60" font-size="9.0" fill="#222" text-anchor="middle" textLength="26.00" lengthAdjust="spacingAndGlyphs" >Relapse</text>
<rect x="250.11" y="364.30" width="57.19" height="1.60" fill="#cc1126" />
<rect x="256.25" y="366.30" width="51.05" height="1.60" fill="#cc1126" />
<rect x="301.46" y="368.60" width="5.84" height="1.60" fill="#1438aa" />
<rect x="307.30" y="375.20" width="60.27" height="1.60" fill="#1438aa" />
<rect x="248.88" y="377.90" width="58.43" height="1.60" fill="#cc1126" />
<rect x="307.30" y="392.60" width="7.26" height="1.60" fill="#1438aa" />
<rect x="303.49" y="403.20" width="3.81" height="1.60" fill="#1438aa" />
<rect x="307.30" y="409.90" width="61.50" height="1.60" fill="#1438aa" />
<rect x="307.30" y="418.20" width="3.51" height="1.60" fill="#cc1126" />
<rect x="302.69" y="421.10" width="4.61" height="1.60" fill="#1438aa" />
<rect x="305.58" y="427.20" width="1.72" height="1.60" fill="#1438aa" />
<rect x="304.96" y="435.80" width="2.34" height="1.60" fill="#cc1126" />
<rect x="307.30" y="439.90" width="3.51" height="1.60" fill="#1438aa" />
<rect x="307.30" y="442.50" width="17.83" height="1.60" fill="#44ee2a" />
<rect x="307.30" y="444.50" width="15.99" height="1.60" fill="#1438aa" />
<rect x="307.30" y="447.10" width="59.66" height="1.60" fill="#cc1126" />
<rect x="307.30" y="462.40" width="34.44" height="1.60" fill="#1438aa" />
<line x1="307.30" y1="362.60" x2="307.30" y2="466.00" stroke="#111" stroke-width="1.1" />
<line x1="245.90" y1="362.60" x2="245.90" y2="466.60" stroke="#111" stroke-width="1.3" />
<line x1="245.30" y1="466.00" x2="400.20" y2="466.00" stroke="#111" stroke-width="1.3" />
<line x1="245.80" y1="466.00" x2="245.80" y2="469.00" stroke="#111" stroke-width="1.0" />
<text x="245.80" y="477.80" font-size="8.4" fill="#222" text-anchor="middle" >−1.0</text>
<line x1="276.55" y1="466.00" x2="276.55" y2="469.00" stroke="#111" stroke-width="1.0" />
<text x="276.55" y="477.80" font-size="8.4" fill="#222" text-anchor="middle" >−0.5</text>
<line x1="307.30" y1="466.00" x2="307.30" y2="469.00" stroke="#111" stroke-width="1.0" />
<text x="307.30" y="477.80" font-size="8.4" fill="#222" text-anchor="middle" >0.0</text>
<line x1="338.05" y1="466.00" x2="338.05" y2="469.00" stroke="#111" stroke-width="1.0" />
<text x="338.05" y="477.80" font-size="8.4" fill="#222" text-anchor="middle" >0.5</text>
<line x1="368.80" y1="466.00" x2="368.80" y2="469.00" stroke="#111" stroke-width="1.0" />
<text x="368.80" y="477.80" font-size="8.4" fill="#222" text-anchor="middle" >1.0</text>
<line x1="399.55" y1="466.00" x2="399.55" y2="469.00" stroke="#111" stroke-width="1.0" />
<text x="399.55" y="477.80" font-size="8.4" fill="#222" text-anchor="middle" >1.5</text>
<line x1="242.30" y1="372.30" x2="245.90" y2="372.30" stroke="#111" stroke-width="1.0" />
<text x="240.40" y="375.40" font-size="8.6" fill="#222" text-anchor="end" textLength="13.90" lengthAdjust="spacingAndGlyphs" >Pt.5</text>
<line x1="242.30" y1="389.60" x2="245.90" y2="389.60" stroke="#111" stroke-width="1.0" />
<text x="240.40" y="392.70" font-size="8.6" fill="#222" text-anchor="end" textLength="18.20" lengthAdjust="spacingAndGlyphs" >Pt.17</text>
<line x1="242.30" y1="406.90" x2="245.90" y2="406.90" stroke="#111" stroke-width="1.0" />
<text x="240.40" y="410.00" font-size="8.6" fill="#222" text-anchor="end" textLength="18.20" lengthAdjust="spacingAndGlyphs" >Pt.10</text>
<line x1="242.30" y1="423.60" x2="245.90" y2="423.60" stroke="#111" stroke-width="1.0" />
<text x="240.40" y="426.70" font-size="8.6" fill="#222" text-anchor="end" textLength="13.90" lengthAdjust="spacingAndGlyphs" >Pt.6</text>
<line x1="242.30" y1="441.00" x2="245.90" y2="441.00" stroke="#111" stroke-width="1.0" />
<text x="240.40" y="444.10" font-size="8.6" fill="#222" text-anchor="end" textLength="13.90" lengthAdjust="spacingAndGlyphs" >Pt.4</text>
<line x1="242.30" y1="458.00" x2="245.90" y2="458.00" stroke="#111" stroke-width="1.0" />
<text x="240.40" y="461.10" font-size="8.6" fill="#222" text-anchor="end" textLength="18.20" lengthAdjust="spacingAndGlyphs" >Pt.16</text>
<text x="315.90" y="490.20" font-size="8.6" fill="#222" text-anchor="middle" textLength="83.00" lengthAdjust="spacingAndGlyphs" >Alternative splicing score</text>
<rect x="382.10" y="363.30" width="3.80" height="4.40" fill="#cc1126" />
<text x="388.60" y="367.90" font-size="6.8" fill="#222" >SE</text>
<rect x="382.10" y="375.10" width="3.80" height="4.40" fill="#1438aa" />
<text x="388.60" y="379.70" font-size="6.8" fill="#222" >RI</text>
<rect x="382.10" y="386.90" width="3.80" height="4.40" fill="#44ee2a" />
<text x="388.60" y="391.50" font-size="6.8" fill="#222" >MXE</text>
<rect x="382.10" y="398.70" width="3.80" height="4.40" fill="#1a1a8c" />
<text x="388.60" y="403.30" font-size="6.8" fill="#222" >A3SS</text>
<text x="386.90" y="331.00" font-size="11.4" fill="#000" font-weight="bold" >F</text>
<line x1="442.60" y1="356.00" x2="442.60" y2="431.90" stroke="#111" stroke-width="1.3" />
<line x1="442.00" y1="431.30" x2="507.60" y2="431.30" stroke="#111" stroke-width="1.3" />
<line x1="440.00" y1="431.30" x2="442.60" y2="431.30" stroke="#111" stroke-width="1.0" />
<text x="438.60" y="433.80" font-size="7.2" fill="#222" text-anchor="end" >0</text>
<line x1="440.00" y1="412.56" x2="442.60" y2="412.56" stroke="#111" stroke-width="1.0" />
<text x="438.60" y="415.06" font-size="7.2" fill="#222" text-anchor="end" >2</text>
<line x1="440.00" y1="393.82" x2="442.60" y2="393.82" stroke="#111" stroke-width="1.0" />
<text x="438.60" y="396.32" font-size="7.2" fill="#222" text-anchor="end" >4</text>
<line x1="440.00" y1="375.08" x2="442.60" y2="375.08" stroke="#111" stroke-width="1.0" />
<text x="438.60" y="377.58" font-size="7.2" fill="#222" text-anchor="end" >6</text>
<line x1="440.00" y1="356.34" x2="442.60" y2="356.34" stroke="#111" stroke-width="1.0" />
<text x="438.60" y="358.84" font-size="7.2" fill="#222" text-anchor="end" >8</text>
<text x="0" y="0" font-size="7.4" fill="#222" text-anchor="middle" textLength="26.00" lengthAdjust="spacingAndGlyphs" transform="translate(432.20,395.00) rotate(-90)" ># Events</text>
<rect x="447.80" y="421.93" width="6.80" height="9.37" fill="#44ee2a" />
<text x="451.20" y="428.62" font-size="5.4" fill="#fff" text-anchor="middle" >5</text>
<rect x="447.80" y="403.19" width="6.80" height="18.74" fill="#1a4cc0" />
<text x="451.20" y="409.88" font-size="5.4" fill="#fff" text-anchor="middle" >2</text>
<text x="451.20" y="419.25" font-size="5.4" fill="#fff" text-anchor="middle" textLength="5.60" lengthAdjust="spacingAndGlyphs" >10</text>
<rect x="447.80" y="384.45" width="6.80" height="18.74" fill="#cc1020" />
<text x="451.20" y="391.14" font-size="5.4" fill="#fff" text-anchor="middle" >2</text>
<text x="451.20" y="400.50" font-size="5.4" fill="#fff" text-anchor="middle" >5</text>
<line x1="451.20" y1="431.30" x2="451.20" y2="433.90" stroke="#111" stroke-width="1.0" />
<text x="0" y="0" font-size="7.0" fill="#222" text-anchor="end" textLength="13.20" lengthAdjust="spacingAndGlyphs" transform="translate(453.60,435.20) rotate(-90)" >Pt. 4</text>
<rect x="457.90" y="421.93" width="6.80" height="9.37" fill="#2a1a9a" />
<text x="461.30" y="428.62" font-size="5.4" fill="#fff" text-anchor="middle" textLength="5.60" lengthAdjust="spacingAndGlyphs" >13</text>
<rect x="457.90" y="412.56" width="6.80" height="9.37" fill="#1a4cc0" />
<text x="461.30" y="419.25" font-size="5.4" fill="#fff" text-anchor="middle" textLength="5.60" lengthAdjust="spacingAndGlyphs" >10</text>
<rect x="457.90" y="384.45" width="6.80" height="28.11" fill="#cc1020" />
<text x="461.30" y="391.14" font-size="5.4" fill="#fff" text-anchor="middle" >2</text>
<text x="461.30" y="400.50" font-size="5.4" fill="#fff" text-anchor="middle" >5</text>
<text x="461.30" y="409.88" font-size="5.4" fill="#fff" text-anchor="middle" >6</text>
<line x1="461.30" y1="431.30" x2="461.30" y2="433.90" stroke="#111" stroke-width="1.0" />
<text x="0" y="0" font-size="7.0" fill="#222" text-anchor="end" textLength="13.20" lengthAdjust="spacingAndGlyphs" transform="translate(463.70,435.20) rotate(-90)" >Pt. 5</text>
<rect x="468.00" y="421.93" width="6.80" height="9.37" fill="#2a1a9a" />
<text x="471.40" y="428.62" font-size="5.4" fill="#fff" text-anchor="middle" textLength="5.60" lengthAdjust="spacingAndGlyphs" >13</text>
<rect x="468.00" y="412.56" width="6.80" height="9.37" fill="#1a4cc0" />
<text x="471.40" y="419.25" font-size="5.4" fill="#fff" text-anchor="middle" textLength="5.60" lengthAdjust="spacingAndGlyphs" >10</text>
<rect x="468.00" y="403.19" width="6.80" height="9.37" fill="#cc1020" />
<text x="471.40" y="409.88" font-size="5.4" fill="#fff" text-anchor="middle" >5</text>
<line x1="471.40" y1="431.30" x2="471.40" y2="433.90" stroke="#111" stroke-width="1.0" />
<text x="0" y="0" font-size="7.0" fill="#222" text-anchor="end" textLength="13.20" lengthAdjust="spacingAndGlyphs" transform="translate(473.80,435.20) rotate(-90)" >Pt. 6</text>
<rect x="478.10" y="421.93" width="6.80" height="9.37" fill="#2a1a9a" />
<text x="481.50" y="428.62" font-size="5.4" fill="#fff" text-anchor="middle" textLength="5.60" lengthAdjust="spacingAndGlyphs" >13</text>
<rect x="478.10" y="412.56" width="6.80" height="9.37" fill="#1a4cc0" />
<text x="481.50" y="419.25" font-size="5.4" fill="#fff" text-anchor="middle" >2</text>
<line x1="481.50" y1="431.30" x2="481.50" y2="433.90" stroke="#111" stroke-width="1.0" />
<text x="0" y="0" font-size="7.0" fill="#222" text-anchor="end" textLength="17.20" lengthAdjust="spacingAndGlyphs" transform="translate(483.90,435.20) rotate(-90)" >Pt. 10</text>
<rect x="488.20" y="421.93" width="6.80" height="9.37" fill="#1a3cb0" />
<text x="491.60" y="428.62" font-size="5.4" fill="#fff" text-anchor="middle" >2</text>
<line x1="491.60" y1="431.30" x2="491.60" y2="433.90" stroke="#111" stroke-width="1.0" />
<text x="0" y="0" font-size="7.0" fill="#222" text-anchor="end" textLength="17.20" lengthAdjust="spacingAndGlyphs" transform="translate(494.00,435.20) rotate(-90)" >Pt. 16</text>
<rect x="498.30" y="421.93" width="6.80" height="9.37" fill="#1a3cb0" />
<text x="501.70" y="428.62" font-size="5.4" fill="#fff" text-anchor="middle" textLength="5.60" lengthAdjust="spacingAndGlyphs" >10</text>
<line x1="501.70" y1="431.30" x2="501.70" y2="433.90" stroke="#111" stroke-width="1.0" />
<text x="0" y="0" font-size="7.0" fill="#222" text-anchor="end" textLength="17.20" lengthAdjust="spacingAndGlyphs" transform="translate(504.10,435.20) rotate(-90)" >Pt. 17</text>
<rect x="451.70" y="358.10" width="8.60" height="2.60" fill="#cc1020" />
<text x="463.10" y="361.80" font-size="6.8" fill="#222" >SE</text>
<rect x="451.70" y="364.30" width="8.60" height="2.60" fill="#1a4cc0" />
<text x="463.10" y="368.00" font-size="6.8" fill="#222" >RI</text>
<rect x="482.90" y="358.10" width="8.60" height="2.60" fill="#44ee2a" />
<text x="494.30" y="361.80" font-size="6.8" fill="#222" >MXE</text>
<rect x="482.90" y="364.30" width="8.60" height="2.60" fill="#2a1a9a" />
<text x="494.30" y="368.00" font-size="6.8" fill="#222" >A3SS</text>
<rect x="445.40" y="455.20" width="10.00" height="14.00" fill="#2a1a9a" />
<text x="450.40" y="464.40" font-size="5.6" fill="#fff" text-anchor="middle" textLength="6.60" lengthAdjust="spacingAndGlyphs" >CR</text>
<rect x="445.40" y="469.20" width="10.00" height="14.10" fill="#a6ee8c" />
<text x="450.40" y="478.80" font-size="6.8" fill="#222" text-anchor="middle" >0</text>
<rect x="455.40" y="455.20" width="10.00" height="14.00" fill="#2a1a9a" />
<text x="460.40" y="464.40" font-size="5.6" fill="#fff" text-anchor="middle" textLength="6.60" lengthAdjust="spacingAndGlyphs" >CR</text>
<rect x="455.40" y="469.20" width="10.00" height="14.10" fill="#a6ee8c" />
<text x="460.40" y="478.80" font-size="6.8" fill="#222" text-anchor="middle" >0</text>
<rect x="465.40" y="455.20" width="10.00" height="14.00" fill="#2a1a9a" />
<text x="470.40" y="464.40" font-size="5.6" fill="#fff" text-anchor="middle" textLength="6.60" lengthAdjust="spacingAndGlyphs" >CR</text>
<rect x="465.40" y="469.20" width="10.00" height="14.10" fill="#a6ee8c" />
<text x="470.40" y="478.80" font-size="6.8" fill="#222" text-anchor="middle" >0</text>
<rect x="475.40" y="455.20" width="10.00" height="14.00" fill="#2a1a9a" />
<text x="480.40" y="464.40" font-size="5.6" fill="#fff" text-anchor="middle" textLength="6.60" lengthAdjust="spacingAndGlyphs" >PR</text>
<rect x="475.40" y="469.20" width="10.00" height="14.10" fill="#a6ee8c" />
<text x="480.40" y="478.80" font-size="6.8" fill="#222" text-anchor="middle" >0</text>
<rect x="485.40" y="455.20" width="10.00" height="14.00" fill="#cc1020" />
<text x="490.40" y="464.40" font-size="5.6" fill="#fff" text-anchor="middle" textLength="6.60" lengthAdjust="spacingAndGlyphs" >PR</text>
<rect x="485.40" y="469.20" width="10.00" height="14.10" fill="#a6ee8c" />
<text x="490.40" y="478.80" font-size="6.8" fill="#222" text-anchor="middle" >0</text>
<rect x="495.40" y="455.20" width="10.00" height="14.00" fill="#2a1a9a" />
<text x="500.40" y="464.40" font-size="5.6" fill="#fff" text-anchor="middle" textLength="6.60" lengthAdjust="spacingAndGlyphs" >PR</text>
<rect x="495.40" y="469.20" width="10.00" height="14.10" fill="#a6ee8c" />
<text x="500.40" y="478.80" font-size="6.8" fill="#222" text-anchor="middle" >0</text>
<line x1="445.40" y1="455.20" x2="445.40" y2="483.30" stroke="#111" stroke-width="0.9" />
<line x1="455.40" y1="455.20" x2="455.40" y2="483.30" stroke="#111" stroke-width="0.9" />
<line x1="465.40" y1="455.20" x2="465.40" y2="483.30" stroke="#111" stroke-width="0.9" />
<line x1="475.40" y1="455.20" x2="475.40" y2="483.30" stroke="#111" stroke-width="0.9" />
<line x1="485.40" y1="455.20" x2="485.40" y2="483.30" stroke="#111" stroke-width="0.9" />
<line x1="495.40" y1="455.20" x2="495.40" y2="483.30" stroke="#111" stroke-width="0.9" />
<line x1="505.40" y1="455.20" x2="505.40" y2="483.30" stroke="#111" stroke-width="0.9" />
<line x1="445.40" y1="455.20" x2="505.40" y2="455.20" stroke="#111" stroke-width="0.9" />
<line x1="445.40" y1="469.20" x2="505.40" y2="469.20" stroke="#111" stroke-width="0.9" />
<line x1="445.40" y1="483.30" x2="505.40" y2="483.30" stroke="#111" stroke-width="0.9" />
<text x="441.40" y="461.00" font-size="7.2" fill="#222" text-anchor="end" textLength="14.00" lengthAdjust="spacingAndGlyphs" >Best</text>
<text x="441.40" y="467.40" font-size="7.2" fill="#222" text-anchor="end" textLength="28.50" lengthAdjust="spacingAndGlyphs" >Response</text>
<text x="441.40" y="474.20" font-size="7.2" fill="#222" text-anchor="end" textLength="26.00" lengthAdjust="spacingAndGlyphs" >Ongoing</text>
<text x="441.40" y="480.60" font-size="7.2" fill="#222" text-anchor="end" textLength="28.50" lengthAdjust="spacingAndGlyphs" >Response</text>
<text x="7.20" y="513.60" font-size="11.4" fill="#000" font-weight="bold" >G</text>
<line x1="43.60" y1="525.50" x2="43.60" y2="641.60" stroke="#111" stroke-width="1.3" />
<line x1="43.00" y1="641.00" x2="165.80" y2="641.00" stroke="#111" stroke-width="1.3" />
<line x1="51.90" y1="641.00" x2="51.90" y2="643.80" stroke="#111" stroke-width="1.0" />
<text x="51.90" y="654.60" font-size="8.0" fill="#222" text-anchor="middle" >1</text>
<line x1="67.29" y1="641.00" x2="67.29" y2="643.80" stroke="#111" stroke-width="1.0" />
<text x="67.29" y="654.60" font-size="8.0" fill="#222" text-anchor="middle" >1.5</text>
<line x1="82.67" y1="641.00" x2="82.67" y2="643.80" stroke="#111" stroke-width="1.0" />
<text x="82.67" y="654.60" font-size="8.0" fill="#222" text-anchor="middle" >2</text>
<line x1="98.06" y1="641.00" x2="98.06" y2="643.80" stroke="#111" stroke-width="1.0" />
<text x="98.06" y="654.60" font-size="8.0" fill="#222" text-anchor="middle" >2.5</text>
<line x1="113.44" y1="641.00" x2="113.44" y2="643.80" stroke="#111" stroke-width="1.0" />
<text x="113.44" y="654.60" font-size="8.0" fill="#222" text-anchor="middle" >3</text>
<line x1="128.83" y1="641.00" x2="128.83" y2="643.80" stroke="#111" stroke-width="1.0" />
<text x="128.83" y="654.60" font-size="8.0" fill="#222" text-anchor="middle" >3.5</text>
<line x1="144.21" y1="641.00" x2="144.21" y2="643.80" stroke="#111" stroke-width="1.0" />
<text x="144.21" y="654.60" font-size="8.0" fill="#222" text-anchor="middle" >4</text>
<line x1="159.60" y1="641.00" x2="159.60" y2="643.80" stroke="#111" stroke-width="1.0" />
<text x="159.60" y="654.60" font-size="8.0" fill="#222" text-anchor="middle" >4.5</text>
<text x="98.00" y="665.00" font-size="7.0" fill="#222" text-anchor="middle" textLength="56.60" lengthAdjust="spacingAndGlyphs" >Month Post-infusion</text>
<text x="0" y="0" font-size="7.0" fill="#222" text-anchor="middle" textLength="28.00" lengthAdjust="spacingAndGlyphs" transform="translate(26.00,587.00) rotate(-90)" >Patient ID</text>
<line x1="40.80" y1="540.00" x2="43.60" y2="540.00" stroke="#111" stroke-width="1.0" />
<text x="38.00" y="542.80" font-size="8.0" fill="#222" text-anchor="end" >5</text>
<line x1="51.90" y1="540.00" x2="73.50" y2="540.00" stroke="#2a4a8a" stroke-width="1.4" />
<polygon points="51.90,537.30 54.60,540.00 51.90,542.70 49.20,540.00" fill="#44f22a" />
<polygon points="73.50,537.30 76.20,540.00 73.50,542.70 70.80,540.00" fill="#0a38b0" />
<line x1="40.80" y1="557.50" x2="43.60" y2="557.50" stroke="#111" stroke-width="1.0" />
<text x="38.00" y="560.30" font-size="8.0" fill="#222" text-anchor="end" >17</text>
<line x1="49.80" y1="557.50" x2="113.50" y2="557.50" stroke="#2a4a8a" stroke-width="1.4" />
<polygon points="49.80,554.80 52.50,557.50 49.80,560.20 47.10,557.50" fill="#44f22a" />
<polygon points="113.50,554.80 116.20,557.50 113.50,560.20 110.80,557.50" fill="#0a38b0" />
<line x1="40.80" y1="575.40" x2="43.60" y2="575.40" stroke="#111" stroke-width="1.0" />
<text x="38.00" y="578.20" font-size="8.0" fill="#222" text-anchor="end" >10</text>
<line x1="48.80" y1="575.40" x2="113.50" y2="575.40" stroke="#2a4a8a" stroke-width="1.4" />
<polygon points="48.80,572.70 51.50,575.40 48.80,578.10 46.10,575.40" fill="#44f22a" />
<polygon points="113.50,572.70 116.20,575.40 113.50,578.10 110.80,575.40" fill="#0a38b0" />
<line x1="40.80" y1="592.90" x2="43.60" y2="592.90" stroke="#111" stroke-width="1.0" />
<text x="38.00" y="595.70" font-size="8.0" fill="#222" text-anchor="end" >6</text>
<line x1="51.00" y1="592.90" x2="115.60" y2="592.90" stroke="#2a4a8a" stroke-width="1.4" />
<polygon points="51.00,590.20 53.70,592.90 51.00,595.60 48.30,592.90" fill="#44f22a" />
<polygon points="115.60,590.20 118.30,592.90 115.60,595.60 112.90,592.90" fill="#0a38b0" />
<line x1="40.80" y1="610.20" x2="43.60" y2="610.20" stroke="#111" stroke-width="1.0" />
<text x="38.00" y="613.00" font-size="8.0" fill="#222" text-anchor="end" >4</text>
<line x1="51.90" y1="610.20" x2="116.50" y2="610.20" stroke="#2a4a8a" stroke-width="1.4" />
<polygon points="51.90,607.50 54.60,610.20 51.90,612.90 49.20,610.20" fill="#44f22a" />
<polygon points="116.50,607.50 119.20,610.20 116.50,612.90 113.80,610.20" fill="#0a38b0" />
<line x1="40.80" y1="628.30" x2="43.60" y2="628.30" stroke="#111" stroke-width="1.0" />
<text x="38.00" y="631.10" font-size="8.0" fill="#222" text-anchor="end" >16</text>
<line x1="49.80" y1="628.30" x2="106.70" y2="628.30" stroke="#2a7a2a" stroke-width="1.4" />
<line x1="106.70" y1="628.30" x2="159.60" y2="628.30" stroke="#9fa8f2" stroke-width="1.4" />
<polygon points="49.80,625.60 52.50,628.30 49.80,631.00 47.10,628.30" fill="#44f22a" />
<polygon points="106.70,625.60 109.40,628.30 106.70,631.00 104.00,628.30" fill="#cc0a18" />
<polygon points="159.60,625.60 162.30,628.30 159.60,631.00 156.90,628.30" fill="#0a38b0" />
<polygon points="144.20,538.80 146.80,541.40 144.20,544.00 141.60,541.40" fill="#cc0a18" />
<text x="149.60" y="544.40" font-size="8.0" fill="#222" >CR</text>
<polygon points="144.20,549.10 146.80,551.70 144.20,554.30 141.60,551.70" fill="#0a38b0" />
<text x="149.60" y="554.70" font-size="8.0" fill="#222" >PD</text>
<polygon points="144.20,559.40 146.80,562.00 144.20,564.60 141.60,562.00" fill="#44f22a" />
<text x="149.60" y="565.00" font-size="8.0" fill="#222" >PR</text>
<rect x="248.50" y="520.80" width="79.70" height="121.00" fill="none" stroke="#111" stroke-width="1.3" />
<line x1="243.90" y1="638.80" x2="248.50" y2="638.80" stroke="#111" stroke-width="1.0" />
<text x="243.40" y="641.10" font-size="7.6" fill="#222" text-anchor="end" >0</text>
<line x1="243.90" y1="631.13" x2="248.50" y2="631.13" stroke="#111" stroke-width="1.0" />
<text x="243.40" y="633.43" font-size="7.6" fill="#222" text-anchor="end" textLength="7.70" lengthAdjust="spacingAndGlyphs" >20</text>
<line x1="243.90" y1="623.47" x2="248.50" y2="623.47" stroke="#111" stroke-width="1.0" />
<text x="243.40" y="625.77" font-size="7.6" fill="#222" text-anchor="end" textLength="7.70" lengthAdjust="spacingAndGlyphs" >40</text>
<line x1="243.90" y1="615.80" x2="248.50" y2="615.80" stroke="#111" stroke-width="1.0" />
<text x="243.40" y="618.10" font-size="7.6" fill="#222" text-anchor="end" textLength="7.70" lengthAdjust="spacingAndGlyphs" >60</text>
<line x1="243.90" y1="608.13" x2="248.50" y2="608.13" stroke="#111" stroke-width="1.0" />
<text x="243.40" y="610.43" font-size="7.6" fill="#222" text-anchor="end" textLength="7.70" lengthAdjust="spacingAndGlyphs" >80</text>
<line x1="243.90" y1="600.47" x2="248.50" y2="600.47" stroke="#111" stroke-width="1.0" />
<text x="243.40" y="602.77" font-size="7.6" fill="#222" text-anchor="end" textLength="11.60" lengthAdjust="spacingAndGlyphs" >100</text>
<line x1="243.90" y1="592.80" x2="248.50" y2="592.80" stroke="#111" stroke-width="1.0" />
<text x="243.40" y="595.10" font-size="7.6" fill="#222" text-anchor="end" textLength="11.60" lengthAdjust="spacingAndGlyphs" >120</text>
<line x1="243.90" y1="585.13" x2="248.50" y2="585.13" stroke="#111" stroke-width="1.0" />
<text x="243.40" y="587.43" font-size="7.6" fill="#222" text-anchor="end" textLength="11.60" lengthAdjust="spacingAndGlyphs" >140</text>
<line x1="243.90" y1="577.47" x2="248.50" y2="577.47" stroke="#111" stroke-width="1.0" />
<text x="243.40" y="579.77" font-size="7.6" fill="#222" text-anchor="end" textLength="11.60" lengthAdjust="spacingAndGlyphs" >160</text>
<line x1="243.90" y1="569.80" x2="248.50" y2="569.80" stroke="#111" stroke-width="1.0" />
<text x="243.40" y="572.10" font-size="7.6" fill="#222" text-anchor="end" textLength="11.60" lengthAdjust="spacingAndGlyphs" >180</text>
<line x1="243.90" y1="562.13" x2="248.50" y2="562.13" stroke="#111" stroke-width="1.0" />
<text x="243.40" y="564.43" font-size="7.6" fill="#222" text-anchor="end" textLength="11.60" lengthAdjust="spacingAndGlyphs" >200</text>
<line x1="243.90" y1="554.47" x2="248.50" y2="554.47" stroke="#111" stroke-width="1.0" />
<text x="243.40" y="556.77" font-size="7.6" fill="#222" text-anchor="end" textLength="11.60" lengthAdjust="spacingAndGlyphs" >220</text>
<line x1="243.90" y1="546.80" x2="248.50" y2="546.80" stroke="#111" stroke-width="1.0" />
<text x="243.40" y="549.10" font-size="7.6" fill="#222" text-anchor="end" textLength="11.60" lengthAdjust="spacingAndGlyphs" >240</text>
<line x1="243.90" y1="539.13" x2="248.50" y2="539.13" stroke="#111" stroke-width="1.0" />
<text x="243.40" y="541.43" font-size="7.6" fill="#222" text-anchor="end" textLength="11.60" lengthAdjust="spacingAndGlyphs" >260</text>
<line x1="243.90" y1="531.47" x2="248.50" y2="531.47" stroke="#111" stroke-width="1.0" />
<text x="243.40" y="533.77" font-size="7.6" fill="#222" text-anchor="end" textLength="11.60" lengthAdjust="spacingAndGlyphs" >280</text>
<line x1="243.90" y1="523.80" x2="248.50" y2="523.80" stroke="#111" stroke-width="1.0" />
<text x="243.40" y="526.10" font-size="7.6" fill="#222" text-anchor="end" textLength="11.60" lengthAdjust="spacingAndGlyphs" >300</text>
<line x1="263.10" y1="641.80" x2="263.10" y2="644.60" stroke="#111" stroke-width="1.0" />
<text x="263.10" y="651.40" font-size="7.0" fill="#222" text-anchor="middle" textLength="41.50" lengthAdjust="spacingAndGlyphs" >Pretreatment</text>
<line x1="312.70" y1="641.80" x2="312.70" y2="644.60" stroke="#111" stroke-width="1.0" />
<text x="312.70" y="651.40" font-size="7.0" fill="#222" text-anchor="middle" textLength="39.00" lengthAdjust="spacingAndGlyphs" >Progression</text>
<text x="0" y="0" font-size="10.0" fill="#222" text-anchor="middle" textLength="50.00" lengthAdjust="spacingAndGlyphs" transform="translate(226.00,581.50) rotate(-90)" >CD19 H-Score</text>
<line x1="264.20" y1="523.80" x2="312.70" y2="637.65" stroke="#ff8a10" stroke-width="1.3" />
<line x1="264.20" y1="529.55" x2="312.70" y2="536.07" stroke="#cc1a1a" stroke-width="1.3" />
<line x1="264.20" y1="531.85" x2="312.70" y2="536.07" stroke="#5ae83a" stroke-width="1.3" />
<line x1="264.20" y1="537.22" x2="312.70" y2="537.60" stroke="#2a2ad0" stroke-width="1.3" />
<line x1="264.20" y1="584.37" x2="312.70" y2="637.27" stroke="#1a7a1a" stroke-width="1.3" />
<line x1="264.20" y1="613.12" x2="312.70" y2="610.43" stroke="#1a4ad0" stroke-width="1.3" />
<circle cx="264.20" cy="523.80" r="1.9" fill="#ff8a10"/>
<circle cx="312.70" cy="637.65" r="1.9" fill="#ff8a10"/>
<circle cx="264.20" cy="529.55" r="1.9" fill="#cc1a1a"/>
<circle cx="312.70" cy="536.07" r="1.9" fill="#cc1a1a"/>
<circle cx="264.20" cy="531.85" r="1.9" fill="#5ae83a"/>
<circle cx="312.70" cy="536.07" r="1.9" fill="#5ae83a"/>
<circle cx="264.20" cy="537.22" r="1.9" fill="#2a2ad0"/>
<circle cx="312.70" cy="537.60" r="1.9" fill="#2a2ad0"/>
<circle cx="264.20" cy="584.37" r="1.9" fill="#1a7a1a"/>
<circle cx="312.70" cy="637.27" r="1.9" fill="#1a7a1a"/>
<circle cx="264.20" cy="613.12" r="1.9" fill="#1a4ad0"/>
<circle cx="312.70" cy="610.43" r="1.9" fill="#1a4ad0"/>
<text x="258.50" y="526.20" font-size="6.4" fill="#333" text-anchor="middle" >16</text>
<text x="261.00" y="531.20" font-size="6.4" fill="#333" text-anchor="middle" >6</text>
<text x="261.00" y="534.60" font-size="6.4" fill="#333" text-anchor="middle" >4</text>
<text x="260.80" y="541.60" font-size="6.4" fill="#333" text-anchor="middle" >5</text>
<text x="258.60" y="587.00" font-size="6.4" fill="#333" text-anchor="middle" >17</text>
<text x="257.50" y="615.80" font-size="6.4" fill="#333" text-anchor="middle" >10</text>
<text x="311.20" y="533.00" font-size="6.4" fill="#333" text-anchor="middle" >6</text>
<text x="317.60" y="538.40" font-size="6.4" fill="#333" text-anchor="middle" >4</text>
<text x="311.20" y="544.60" font-size="6.4" fill="#333" text-anchor="middle" >5</text>
<text x="319.40" y="612.80" font-size="6.4" fill="#333" text-anchor="middle" >10</text>
<text x="303.80" y="641.00" font-size="6.4" fill="#333" text-anchor="middle" >17</text>
<text x="319.80" y="641.00" font-size="6.4" fill="#333" text-anchor="middle" >16</text>
<text x="363.60" y="513.60" font-size="11.6" fill="#000" font-weight="bold" >H</text>
<text x="379.40" y="551.40" font-size="8.4" fill="#222" textLength="36.20" lengthAdjust="spacingAndGlyphs" >Patient 10</text>
<text x="385.60" y="577.60" font-size="8.4" fill="#222" textLength="11.50" lengthAdjust="spacingAndGlyphs" >Pre</text>
<text x="385.60" y="585.90" font-size="8.4" fill="#222" textLength="35.20" lengthAdjust="spacingAndGlyphs" >treatment</text>
<text x="385.40" y="638.20" font-size="8.4" fill="#222" textLength="27.00" lengthAdjust="spacingAndGlyphs" >Relapse</text>
<rect x="424.83" y="510.41" width="0.80" height="1.39" fill="#8a8a8a" />
<rect x="425.86" y="510.00" width="0.80" height="1.80" fill="#8a8a8a" />
<rect x="428.95" y="510.59" width="0.80" height="1.21" fill="#8a8a8a" />
<rect x="431.01" y="510.25" width="0.80" height="1.55" fill="#8a8a8a" />
<rect x="432.04" y="510.24" width="0.80" height="1.56" fill="#8a8a8a" />
<rect x="433.07" y="510.76" width="0.80" height="1.04" fill="#8a8a8a" />
<rect x="434.10" y="509.61" width="0.80" height="2.19" fill="#8a8a8a" />
<rect x="435.13" y="509.81" width="0.80" height="1.99" fill="#8a8a8a" />
<rect x="436.16" y="510.90" width="0.80" height="0.90" fill="#8a8a8a" />
<rect x="437.19" y="510.05" width="0.80" height="1.75" fill="#8a8a8a" />
<rect x="440.28" y="510.24" width="0.80" height="1.56" fill="#8a8a8a" />
<rect x="441.31" y="509.59" width="0.80" height="2.21" fill="#8a8a8a" />
<rect x="442.34" y="509.53" width="0.80" height="2.27" fill="#8a8a8a" />
<rect x="443.37" y="509.72" width="0.80" height="2.08" fill="#8a8a8a" />
<rect x="444.40" y="509.50" width="0.80" height="2.30" fill="#8a8a8a" />
<rect x="445.43" y="510.84" width="0.80" height="0.96" fill="#8a8a8a" />
<rect x="448.52" y="510.30" width="0.80" height="1.50" fill="#8a8a8a" />
<rect x="449.55" y="510.52" width="0.80" height="1.28" fill="#8a8a8a" />
<rect x="450.58" y="510.38" width="0.80" height="1.42" fill="#8a8a8a" />
<rect x="451.61" y="510.06" width="0.80" height="1.74" fill="#8a8a8a" />
<rect x="452.64" y="509.91" width="0.80" height="1.89" fill="#8a8a8a" />
<rect x="453.67" y="509.41" width="0.80" height="2.39" fill="#8a8a8a" />
<rect x="455.73" y="509.46" width="0.80" height="2.34" fill="#8a8a8a" />
<rect x="456.76" y="509.86" width="0.80" height="1.94" fill="#d04050" />
<rect x="457.79" y="510.08" width="0.80" height="1.72" fill="#d04050" />
<rect x="459.85" y="509.42" width="0.80" height="2.38" fill="#d04050" />
<rect x="460.88" y="510.34" width="0.80" height="1.46" fill="#d04050" />
<rect x="462.94" y="509.60" width="0.80" height="2.20" fill="#8a8a8a" />
<rect x="465.00" y="510.93" width="0.80" height="0.87" fill="#8a8a8a" />
<rect x="466.03" y="510.47" width="0.80" height="1.33" fill="#8a8a8a" />
<rect x="467.06" y="509.43" width="0.80" height="2.37" fill="#8a8a8a" />
<rect x="468.09" y="509.40" width="0.80" height="2.40" fill="#8a8a8a" />
<rect x="471.18" y="510.95" width="0.80" height="0.85" fill="#8a8a8a" />
<rect x="473.24" y="510.02" width="0.80" height="1.78" fill="#8a8a8a" />
<rect x="476.33" y="510.50" width="0.80" height="1.30" fill="#444" />
<rect x="477.36" y="509.57" width="0.80" height="2.23" fill="#444" />
<rect x="478.39" y="510.26" width="0.80" height="1.54" fill="#444" />
<rect x="479.42" y="509.97" width="0.80" height="1.83" fill="#444" />
<rect x="480.45" y="510.11" width="0.80" height="1.69" fill="#444" />
<rect x="481.48" y="509.50" width="0.80" height="2.30" fill="#444" />
<rect x="482.51" y="510.31" width="0.80" height="1.49" fill="#444" />
<rect x="483.54" y="510.62" width="0.80" height="1.18" fill="#444" />
<rect x="485.60" y="510.17" width="0.80" height="1.63" fill="#444" />
<rect x="486.63" y="510.98" width="0.80" height="0.82" fill="#444" />
<rect x="487.66" y="510.07" width="0.80" height="1.73" fill="#444" />
<rect x="489.72" y="509.99" width="0.80" height="1.81" fill="#444" />
<rect x="491.78" y="510.25" width="0.80" height="1.55" fill="#444" />
<rect x="492.81" y="510.44" width="0.80" height="1.36" fill="#444" />
<rect x="493.84" y="509.82" width="0.80" height="1.98" fill="#444" />
<rect x="496.93" y="509.46" width="0.80" height="2.34" fill="#444" />
<rect x="498.99" y="510.05" width="0.80" height="1.75" fill="#444" />
<rect x="501.05" y="510.50" width="0.80" height="1.30" fill="#8a8a8a" />
<rect x="502.08" y="510.05" width="0.80" height="1.75" fill="#8a8a8a" />
<rect x="504.14" y="509.76" width="0.80" height="2.04" fill="#8a8a8a" />
<rect x="506.20" y="509.82" width="0.80" height="1.98" fill="#8a8a8a" />
<rect x="509.29" y="510.62" width="0.80" height="1.18" fill="#8a8a8a" />
<line x1="422.80" y1="514.40" x2="510.80" y2="514.40" stroke="#aaa" stroke-width="0.5" />
<line x1="422.80" y1="513.00" x2="422.80" y2="515.60" stroke="#777" stroke-width="0.6" />
<line x1="446.00" y1="513.00" x2="446.00" y2="515.60" stroke="#777" stroke-width="0.6" />
<line x1="468.60" y1="513.00" x2="468.60" y2="515.60" stroke="#777" stroke-width="0.6" />
<line x1="489.00" y1="513.00" x2="489.00" y2="515.60" stroke="#777" stroke-width="0.6" />
<line x1="510.80" y1="513.00" x2="510.80" y2="515.60" stroke="#777" stroke-width="0.6" />
<line x1="422.80" y1="517.00" x2="510.80" y2="517.00" stroke="#333" stroke-width="1.0" />
<rect x="422.80" y="517.50" width="88.00" height="2.60" fill="#b8c4c4" />
<rect x="422.80" y="520.10" width="88.00" height="4.90" fill="#f6f7f7" />
<rect x="422.80" y="525.00" width="88.00" height="36.50" fill="#d3d9da" />
<rect x="427.60" y="561.50" width="40.80" height="5.80" fill="#d3d9da" />
<rect x="470.60" y="561.50" width="16.60" height="12.50" fill="#d3d9da" />
<rect x="487.20" y="561.50" width="23.60" height="15.50" fill="#d3d9da" />
<line x1="422.80" y1="527.00" x2="510.80" y2="527.00" stroke="#c9d0d1" stroke-width="0.5" />
<line x1="422.80" y1="530.00" x2="510.80" y2="530.00" stroke="#c9d0d1" stroke-width="0.5" />
<line x1="422.80" y1="533.00" x2="510.80" y2="533.00" stroke="#c9d0d1" stroke-width="0.5" />
<line x1="422.80" y1="536.00" x2="510.80" y2="536.00" stroke="#c9d0d1" stroke-width="0.5" />
<line x1="422.80" y1="539.00" x2="510.80" y2="539.00" stroke="#c9d0d1" stroke-width="0.5" />
<line x1="422.80" y1="542.00" x2="510.80" y2="542.00" stroke="#c9d0d1" stroke-width="0.5" />
<line x1="422.80" y1="545.00" x2="510.80" y2="545.00" stroke="#c9d0d1" stroke-width="0.5" />
<line x1="422.80" y1="548.00" x2="510.80" y2="548.00" stroke="#c9d0d1" stroke-width="0.5" />
<line x1="422.80" y1="551.00" x2="510.80" y2="551.00" stroke="#c9d0d1" stroke-width="0.5" />
<line x1="422.80" y1="554.00" x2="510.80" y2="554.00" stroke="#c9d0d1" stroke-width="0.5" />
<line x1="422.80" y1="557.00" x2="510.80" y2="557.00" stroke="#c9d0d1" stroke-width="0.5" />
<line x1="422.80" y1="560.00" x2="510.80" y2="560.00" stroke="#c9d0d1" stroke-width="0.5" />
<rect x="427.60" y="525.80" width="4.20" height="1.20" fill="#9aa3a5" />
<rect x="427.60" y="528.70" width="4.20" height="1.20" fill="#b5bdbf" />
<rect x="427.60" y="531.60" width="4.20" height="1.20" fill="#9aa3a5" />
<rect x="427.60" y="534.50" width="4.20" height="1.20" fill="#b5bdbf" />
<rect x="427.60" y="537.40" width="4.20" height="1.20" fill="#9aa3a5" />
<rect x="427.60" y="540.30" width="4.20" height="1.20" fill="#b5bdbf" />
<rect x="427.60" y="543.20" width="4.20" height="1.20" fill="#9aa3a5" />
<rect x="427.60" y="546.10" width="4.20" height="1.20" fill="#b5bdbf" />
<rect x="427.60" y="549.00" width="4.20" height="1.20" fill="#9aa3a5" />
<rect x="472.80" y="519.20" width="1.90" height="55.00" fill="#e07818" />
<line x1="472.80" y1="521.50" x2="474.70" y2="521.50" stroke="#f1a060" stroke-width="0.5" />
<line x1="472.80" y1="524.50" x2="474.70" y2="524.50" stroke="#f1a060" stroke-width="0.5" />
<line x1="472.80" y1="527.50" x2="474.70" y2="527.50" stroke="#f1a060" stroke-width="0.5" />
<line x1="472.80" y1="530.50" x2="474.70" y2="530.50" stroke="#f1a060" stroke-width="0.5" />
<line x1="472.80" y1="533.50" x2="474.70" y2="533.50" stroke="#f1a060" stroke-width="0.5" />
<line x1="472.80" y1="536.50" x2="474.70" y2="536.50" stroke="#f1a060" stroke-width="0.5" />
<line x1="472.80" y1="539.50" x2="474.70" y2="539.50" stroke="#f1a060" stroke-width="0.5" />
<line x1="472.80" y1="542.50" x2="474.70" y2="542.50" stroke="#f1a060" stroke-width="0.5" />
<line x1="472.80" y1="545.50" x2="474.70" y2="545.50" stroke="#f1a060" stroke-width="0.5" />
<line x1="472.80" y1="548.50" x2="474.70" y2="548.50" stroke="#f1a060" stroke-width="0.5" />
<line x1="472.80" y1="551.50" x2="474.70" y2="551.50" stroke="#f1a060" stroke-width="0.5" />
<line x1="472.80" y1="554.50" x2="474.70" y2="554.50" stroke="#f1a060" stroke-width="0.5" />
<line x1="472.80" y1="557.50" x2="474.70" y2="557.50" stroke="#f1a060" stroke-width="0.5" />
<line x1="472.80" y1="560.50" x2="474.70" y2="560.50" stroke="#f1a060" stroke-width="0.5" />
<line x1="472.80" y1="563.50" x2="474.70" y2="563.50" stroke="#f1a060" stroke-width="0.5" />
<line x1="472.80" y1="566.50" x2="474.70" y2="566.50" stroke="#f1a060" stroke-width="0.5" />
<line x1="472.80" y1="569.50" x2="474.70" y2="569.50" stroke="#f1a060" stroke-width="0.5" />
<line x1="472.80" y1="572.50" x2="474.70" y2="572.50" stroke="#f1a060" stroke-width="0.5" />
<rect x="509.00" y="525.00" width="1.60" height="26.00" fill="#dd2244" />
<line x1="422.80" y1="583.80" x2="510.80" y2="583.80" stroke="#333" stroke-width="1.4" />
<rect x="422.80" y="584.60" width="88.00" height="2.10" fill="#dfe3e3" />
<rect x="468.40" y="584.40" width="1.90" height="2.40" fill="#2040e0" />
<rect x="472.80" y="584.80" width="1.80" height="1.80" fill="#e07818" />
<rect x="422.80" y="590.00" width="88.00" height="58.30" fill="#d3d9da" />
<rect x="422.80" y="631.00" width="56.40" height="17.30" fill="#f5f6f6" />
<line x1="422.80" y1="592.00" x2="510.80" y2="592.00" stroke="#c9d0d1" stroke-width="0.5" />
<line x1="422.80" y1="595.00" x2="510.80" y2="595.00" stroke="#c9d0d1" stroke-width="0.5" />
<line x1="422.80" y1="598.00" x2="510.80" y2="598.00" stroke="#c9d0d1" stroke-width="0.5" />
<line x1="422.80" y1="601.00" x2="510.80" y2="601.00" stroke="#c9d0d1" stroke-width="0.5" />
<line x1="422.80" y1="604.00" x2="510.80" y2="604.00" stroke="#c9d0d1" stroke-width="0.5" />
<line x1="422.80" y1="607.00" x2="510.80" y2="607.00" stroke="#c9d0d1" stroke-width="0.5" />
<line x1="422.80" y1="610.00" x2="510.80" y2="610.00" stroke="#c9d0d1" stroke-width="0.5" />
<line x1="422.80" y1="613.00" x2="510.80" y2="613.00" stroke="#c9d0d1" stroke-width="0.5" />
<line x1="422.80" y1="616.00" x2="510.80" y2="616.00" stroke="#c9d0d1" stroke-width="0.5" />
<line x1="422.80" y1="619.00" x2="510.80" y2="619.00" stroke="#c9d0d1" stroke-width="0.5" />
<line x1="422.80" y1="622.00" x2="510.80" y2="622.00" stroke="#c9d0d1" stroke-width="0.5" />
<line x1="422.80" y1="625.00" x2="510.80" y2="625.00" stroke="#c9d0d1" stroke-width="0.5" />
<line x1="422.80" y1="628.00" x2="510.80" y2="628.00" stroke="#c9d0d1" stroke-width="0.5" />
<rect x="468.40" y="590.00" width="1.90" height="41.00" fill="#2a44e0" />
<rect x="472.80" y="590.00" width="1.90" height="41.00" fill="#e07818" />
<line x1="472.80" y1="592.00" x2="474.70" y2="592.00" stroke="#f1a060" stroke-width="0.5" />
<line x1="472.80" y1="595.00" x2="474.70" y2="595.00" stroke="#f1a060" stroke-width="0.5" />
<line x1="472.80" y1="598.00" x2="474.70" y2="598.00" stroke="#f1a060" stroke-width="0.5" />
<line x1="472.80" y1="601.00" x2="474.70" y2="601.00" stroke="#f1a060" stroke-width="0.5" />
<line x1="472.80" y1="604.00" x2="474.70" y2="604.00" stroke="#f1a060" stroke-width="0.5" />
<line x1="472.80" y1="607.00" x2="474.70" y2="607.00" stroke="#f1a060" stroke-width="0.5" />
<line x1="472.80" y1="610.00" x2="474.70" y2="610.00" stroke="#f1a060" stroke-width="0.5" />
<line x1="472.80" y1="613.00" x2="474.70" y2="613.00" stroke="#f1a060" stroke-width="0.5" />
<line x1="472.80" y1="616.00" x2="474.70" y2="616.00" stroke="#f1a060" stroke-width="0.5" />
<line x1="472.80" y1="619.00" x2="474.70" y2="619.00" stroke="#f1a060" stroke-width="0.5" />
<line x1="472.80" y1="622.00" x2="474.70" y2="622.00" stroke="#f1a060" stroke-width="0.5" />
<line x1="472.80" y1="625.00" x2="474.70" y2="625.00" stroke="#f1a060" stroke-width="0.5" />
<line x1="472.80" y1="628.00" x2="474.70" y2="628.00" stroke="#f1a060" stroke-width="0.5" />
<line x1="422.80" y1="648.30" x2="510.80" y2="648.30" stroke="#555" stroke-width="0.8" />
<line x1="510.80" y1="517.00" x2="510.80" y2="648.30" stroke="#888" stroke-width="0.6" />
<line x1="422.80" y1="650.80" x2="510.80" y2="650.80" stroke="#5a6ae6" stroke-width="1.3" />
<rect x="423.80" y="650.20" width="0.70" height="1.20" fill="#e0c060" />
<rect x="426.00" y="650.20" width="0.70" height="1.20" fill="#60c0e0" />
<rect x="428.20" y="650.20" width="0.70" height="1.20" fill="#40a040" />
<rect x="430.40" y="650.20" width="0.70" height="1.20" fill="#3040c0" />
<rect x="432.60" y="650.20" width="0.70" height="1.20" fill="#e0c060" />
<rect x="434.80" y="650.20" width="0.70" height="1.20" fill="#60c0e0" />
<rect x="437.00" y="650.20" width="0.70" height="1.20" fill="#40a040" />
<rect x="439.20" y="650.20" width="0.70" height="1.20" fill="#3040c0" />
<rect x="441.40" y="650.20" width="0.70" height="1.20" fill="#e0c060" />
<rect x="443.60" y="650.20" width="0.70" height="1.20" fill="#60c0e0" />
<rect x="445.80" y="650.20" width="0.70" height="1.20" fill="#40a040" />
<rect x="448.00" y="650.20" width="0.70" height="1.20" fill="#3040c0" />
<rect x="450.20" y="650.20" width="0.70" height="1.20" fill="#e0c060" />
<rect x="452.40" y="650.20" width="0.70" height="1.20" fill="#60c0e0" />
<rect x="454.60" y="650.20" width="0.70" height="1.20" fill="#40a040" />
<rect x="456.80" y="650.20" width="0.70" height="1.20" fill="#3040c0" />
<rect x="459.00" y="650.20" width="0.70" height="1.20" fill="#e0c060" />
<rect x="461.20" y="650.20" width="0.70" height="1.20" fill="#60c0e0" />
<rect x="463.40" y="650.20" width="0.70" height="1.20" fill="#40a040" />
<rect x="465.60" y="650.20" width="0.70" height="1.20" fill="#3040c0" />
<rect x="467.80" y="650.20" width="0.70" height="1.20" fill="#e0c060" />
<rect x="470.00" y="650.20" width="0.70" height="1.20" fill="#60c0e0" />
<rect x="472.20" y="650.20" width="0.70" height="1.20" fill="#40a040" />
<rect x="474.40" y="650.20" width="0.70" height="1.20" fill="#3040c0" />
<rect x="476.60" y="650.20" width="0.70" height="1.20" fill="#e0c060" />
<rect x="478.80" y="650.20" width="0.70" height="1.20" fill="#60c0e0" />
<rect x="481.00" y="650.20" width="0.70" height="1.20" fill="#40a040" />
<rect x="483.20" y="650.20" width="0.70" height="1.20" fill="#3040c0" />
<rect x="485.40" y="650.20" width="0.70" height="1.20" fill="#e0c060" />
<rect x="487.60" y="650.20" width="0.70" height="1.20" fill="#60c0e0" />
<rect x="489.80" y="650.20" width="0.70" height="1.20" fill="#40a040" />
<rect x="492.00" y="650.20" width="0.70" height="1.20" fill="#3040c0" />
<rect x="494.20" y="650.20" width="0.70" height="1.20" fill="#e0c060" />
<rect x="496.40" y="650.20" width="0.70" height="1.20" fill="#60c0e0" />
<rect x="498.60" y="650.20" width="0.70" height="1.20" fill="#40a040" />
<rect x="500.80" y="650.20" width="0.70" height="1.20" fill="#3040c0" />
<rect x="503.00" y="650.20" width="0.70" height="1.20" fill="#e0c060" />
<rect x="505.20" y="650.20" width="0.70" height="1.20" fill="#60c0e0" />
<rect x="507.40" y="650.20" width="0.70" height="1.20" fill="#40a040" />
<rect x="509.60" y="650.20" width="0.70" height="1.20" fill="#3040c0" />
<line x1="468.20" y1="515.50" x2="468.20" y2="653.00" stroke="#222" stroke-width="0.8" />
<line x1="470.80" y1="515.50" x2="470.80" y2="653.00" stroke="#222" stroke-width="0.8" />
<line x1="458.40" y1="637.70" x2="469.00" y2="631.00" stroke="#e03050" stroke-width="0.8" />
<text x="431.80" y="643.50" font-size="9.0" fill="#333" textLength="24.70" lengthAdjust="spacingAndGlyphs" >C173S</text>
<text x="440.90" y="662.20" font-size="7.6" fill="#333" textLength="60.10" lengthAdjust="spacingAndGlyphs" >chr16:28944394 G/C</text>
</svg></body></html>
